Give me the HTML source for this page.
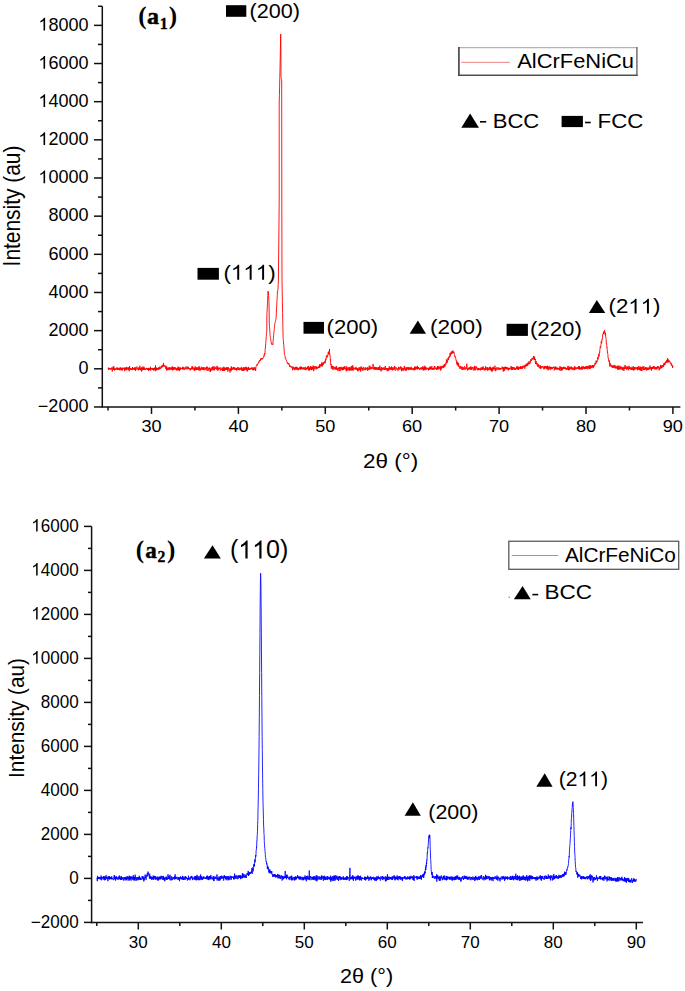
<!DOCTYPE html>
<html><head><meta charset="utf-8"><style>
html,body{margin:0;padding:0;background:#fff;}
svg{display:block;}
text{font-family:"Liberation Sans",sans-serif;fill:#000;font-kerning:none;}
</style></head><body>
<svg width="685" height="991" viewBox="0 0 685 991">
<rect width="685" height="991" fill="#fff"/>
<polyline points="108.05,368.35 108.22,367.84 108.40,368.32 108.57,370.04 108.75,367.74 108.92,368.21 109.09,369.27 109.27,368.12 109.44,368.36 109.61,368.39 109.79,368.67 109.96,368.12 110.14,369.47 110.31,368.84 110.48,369.23 110.66,368.09 110.83,368.60 111.00,368.98 111.18,369.53 111.35,369.02 111.53,368.71 111.70,369.00 111.87,367.34 112.05,367.64 112.22,371.55 112.39,370.65 112.57,368.91 112.74,369.15 112.92,368.49 113.09,368.45 113.26,366.47 113.44,369.84 113.61,369.09 113.79,366.45 113.96,368.00 114.13,368.02 114.31,369.24 114.48,370.44 114.65,368.50 114.83,368.56 115.00,369.97 115.18,369.42 115.35,368.79 115.52,369.65 115.70,368.77 115.87,368.67 116.04,368.66 116.22,369.25 116.39,368.08 116.57,367.72 116.74,368.39 116.91,369.58 117.09,367.86 117.26,369.24 117.44,367.78 117.61,369.79 117.78,367.75 117.96,368.72 118.13,370.00 118.30,368.99 118.48,368.68 118.65,368.43 118.83,369.73 119.00,369.83 119.17,368.50 119.35,369.17 119.52,368.46 119.69,367.91 119.87,370.39 120.04,368.43 120.22,367.33 120.39,369.00 120.56,369.52 120.74,367.89 120.91,368.47 121.08,367.80 121.26,369.04 121.43,370.28 121.61,368.83 121.78,369.17 121.95,367.91 122.13,368.46 122.30,370.39 122.48,369.94 122.65,367.75 122.82,368.01 123.00,369.34 123.17,368.72 123.34,368.19 123.52,368.22 123.69,367.79 123.87,368.39 124.04,368.78 124.21,368.99 124.39,367.57 124.56,371.06 124.73,368.84 124.91,368.64 125.08,370.17 125.26,368.32 125.43,369.36 125.60,367.78 125.78,368.83 125.95,367.95 126.13,367.44 126.30,368.24 126.47,369.55 126.65,370.22 126.82,366.86 126.99,368.75 127.17,369.39 127.34,368.51 127.52,368.81 127.69,367.79 127.86,368.64 128.04,368.71 128.21,369.50 128.38,368.19 128.56,369.77 128.73,367.98 128.91,367.09 129.08,370.35 129.25,371.27 129.43,368.02 129.60,365.98 129.77,369.77 129.95,370.03 130.12,368.09 130.30,369.59 130.47,369.27 130.64,369.08 130.82,368.09 130.99,369.15 131.17,368.45 131.34,368.89 131.51,369.59 131.69,369.01 131.86,369.71 132.03,368.69 132.21,369.89 132.38,369.87 132.56,367.15 132.73,368.74 132.90,368.75 133.08,368.14 133.25,369.16 133.42,368.93 133.60,368.24 133.77,368.36 133.95,369.96 134.12,367.83 134.29,369.30 134.47,369.82 134.64,369.63 134.82,369.08 134.99,366.97 135.16,369.97 135.34,368.56 135.51,371.01 135.68,368.67 135.86,367.74 136.03,368.90 136.21,369.35 136.38,368.48 136.55,367.93 136.73,368.03 136.90,366.62 137.07,368.48 137.25,369.29 137.42,368.80 137.60,368.78 137.77,368.60 137.94,368.72 138.12,368.52 138.29,370.42 138.46,367.81 138.64,369.25 138.81,369.85 138.99,368.04 139.16,367.32 139.33,368.16 139.51,368.51 139.68,369.68 139.86,365.72 140.03,367.69 140.20,369.88 140.38,369.54 140.55,368.66 140.72,370.28 140.90,368.50 141.07,369.17 141.25,367.43 141.42,367.68 141.59,371.54 141.77,368.71 141.94,370.31 142.11,367.51 142.29,368.52 142.46,368.14 142.64,369.82 142.81,366.70 142.98,366.55 143.16,369.84 143.33,368.27 143.51,369.38 143.68,368.69 143.85,370.02 144.03,366.73 144.20,369.69 144.37,369.00 144.55,368.20 144.72,369.39 144.90,368.93 145.07,369.32 145.24,368.83 145.42,369.92 145.59,369.12 145.76,368.89 145.94,369.04 146.11,368.63 146.29,368.98 146.46,367.86 146.63,369.05 146.81,368.87 146.98,369.40 147.15,369.30 147.33,370.03 147.50,368.11 147.68,369.85 147.85,369.41 148.02,368.30 148.20,368.25 148.37,369.11 148.55,370.81 148.72,368.22 148.89,368.37 149.07,370.14 149.24,367.93 149.41,369.39 149.59,369.85 149.76,368.59 149.94,368.85 150.11,368.43 150.28,370.35 150.46,366.79 150.63,369.20 150.80,370.30 150.98,368.00 151.15,369.00 151.33,368.35 151.50,369.00 151.67,368.75 151.85,368.41 152.02,369.47 152.20,367.89 152.37,369.19 152.54,369.55 152.72,368.57 152.89,368.25 153.06,368.84 153.24,369.57 153.41,368.01 153.59,370.49 153.76,369.76 153.93,368.63 154.11,370.07 154.28,368.64 154.45,368.69 154.63,367.65 154.80,369.63 154.98,369.34 155.15,368.28 155.32,371.19 155.50,365.35 155.67,369.39 155.84,369.47 156.02,367.68 156.19,368.63 156.37,370.42 156.54,367.98 156.71,367.68 156.89,369.03 157.06,368.95 157.24,368.03 157.41,369.47 157.58,368.08 157.76,368.33 157.93,369.23 158.10,370.02 158.28,368.83 158.45,369.48 158.63,367.47 158.80,368.39 158.97,367.62 159.15,368.35 159.32,368.18 159.49,369.34 159.67,367.68 159.84,366.54 160.02,368.57 160.19,369.01 160.36,368.38 160.54,368.69 160.71,368.84 160.89,367.70 161.06,368.08 161.23,366.27 161.41,367.41 161.58,367.07 161.75,366.03 161.93,367.38 162.10,365.11 162.28,366.98 162.45,366.85 162.62,366.24 162.80,365.71 162.97,366.46 163.14,364.65 163.32,366.24 163.49,362.96 163.67,364.66 163.84,365.08 164.01,365.55 164.19,365.24 164.36,365.19 164.53,366.36 164.71,366.53 164.88,366.18 165.06,366.93 165.23,365.62 165.40,365.70 165.58,367.27 165.75,366.88 165.93,369.09 166.10,367.21 166.27,367.95 166.45,367.52 166.62,366.35 166.79,370.57 166.97,367.92 167.14,369.35 167.32,367.70 167.49,369.73 167.66,368.96 167.84,368.17 168.01,367.80 168.18,368.39 168.36,369.37 168.53,369.12 168.71,367.61 168.88,368.52 169.05,370.25 169.23,367.72 169.40,368.13 169.58,367.66 169.75,368.83 169.92,367.71 170.10,369.71 170.27,367.96 170.44,369.15 170.62,367.87 170.79,367.61 170.97,369.30 171.14,368.66 171.31,368.59 171.49,367.41 171.66,367.88 171.83,369.90 172.01,368.17 172.18,367.81 172.36,366.41 172.53,370.39 172.70,369.19 172.88,367.19 173.05,370.07 173.22,369.90 173.40,368.09 173.57,367.56 173.75,369.41 173.92,368.04 174.09,368.53 174.27,367.08 174.44,368.66 174.62,367.68 174.79,369.63 174.96,368.84 175.14,368.72 175.31,367.47 175.48,368.04 175.66,369.46 175.83,367.92 176.01,367.87 176.18,368.77 176.35,368.94 176.53,368.90 176.70,370.47 176.87,368.49 177.05,368.39 177.22,369.48 177.40,367.90 177.57,370.13 177.74,369.23 177.92,369.15 178.09,366.60 178.27,370.29 178.44,368.06 178.61,367.66 178.79,368.27 178.96,367.43 179.13,369.70 179.31,371.11 179.48,367.89 179.66,369.93 179.83,369.06 180.00,369.86 180.18,367.59 180.35,367.78 180.52,369.42 180.70,367.68 180.87,368.55 181.05,368.85 181.22,368.64 181.39,368.88 181.57,368.05 181.74,368.28 181.91,369.01 182.09,367.71 182.26,369.35 182.44,368.37 182.61,368.17 182.78,367.19 182.96,369.22 183.13,366.82 183.31,368.52 183.48,368.88 183.65,369.40 183.83,368.05 184.00,368.66 184.17,369.84 184.35,369.91 184.52,369.24 184.70,369.37 184.87,367.54 185.04,367.24 185.22,367.77 185.39,368.32 185.56,369.13 185.74,368.62 185.91,367.76 186.09,366.46 186.26,367.74 186.43,368.99 186.61,368.63 186.78,369.19 186.96,369.45 187.13,368.88 187.30,368.48 187.48,366.78 187.65,368.63 187.82,367.27 188.00,366.85 188.17,368.60 188.35,366.95 188.52,367.96 188.69,369.14 188.87,368.41 189.04,368.65 189.21,368.89 189.39,368.91 189.56,368.54 189.74,368.25 189.91,369.64 190.08,368.71 190.26,370.32 190.43,368.40 190.60,368.00 190.78,368.53 190.95,368.41 191.13,368.03 191.30,369.39 191.47,368.90 191.65,368.23 191.82,367.64 192.00,368.30 192.17,366.02 192.34,368.76 192.52,367.61 192.69,367.36 192.86,368.80 193.04,369.58 193.21,369.92 193.39,368.52 193.56,367.57 193.73,368.38 193.91,368.53 194.08,369.07 194.25,368.12 194.43,370.92 194.60,368.43 194.78,368.66 194.95,370.14 195.12,366.39 195.30,370.14 195.47,369.83 195.65,369.95 195.82,367.53 195.99,369.63 196.17,367.96 196.34,368.02 196.51,368.43 196.69,370.06 196.86,369.36 197.04,366.97 197.21,370.01 197.38,369.58 197.56,368.85 197.73,367.88 197.90,368.44 198.08,367.90 198.25,369.80 198.43,367.69 198.60,368.08 198.77,370.36 198.95,367.04 199.12,366.24 199.29,369.48 199.47,368.63 199.64,367.25 199.82,370.26 199.99,370.79 200.16,370.01 200.34,369.33 200.51,369.32 200.69,368.08 200.86,368.38 201.03,370.02 201.21,368.14 201.38,366.78 201.55,367.42 201.73,367.69 201.90,368.64 202.08,367.63 202.25,369.73 202.42,367.91 202.60,368.78 202.77,367.54 202.94,368.23 203.12,369.85 203.29,368.56 203.47,367.40 203.64,369.93 203.81,369.27 203.99,369.50 204.16,370.27 204.34,367.69 204.51,367.29 204.68,367.81 204.86,368.45 205.03,368.75 205.20,368.48 205.38,369.47 205.55,367.73 205.73,367.60 205.90,367.70 206.07,369.25 206.25,368.60 206.42,368.84 206.59,366.79 206.77,368.55 206.94,370.67 207.12,368.35 207.29,366.71 207.46,367.98 207.64,367.78 207.81,368.61 207.98,370.75 208.16,370.56 208.33,369.98 208.51,368.77 208.68,368.37 208.85,367.97 209.03,369.05 209.20,367.62 209.38,368.99 209.55,369.43 209.72,367.76 209.90,369.62 210.07,371.57 210.24,369.75 210.42,368.58 210.59,371.88 210.77,369.05 210.94,369.01 211.11,370.21 211.29,370.20 211.46,369.19 211.63,369.26 211.81,367.34 211.98,368.30 212.16,370.34 212.33,369.58 212.50,367.94 212.68,366.68 212.85,368.32 213.03,368.38 213.20,366.68 213.37,368.77 213.55,369.03 213.72,370.15 213.89,369.28 214.07,366.43 214.24,370.20 214.42,368.63 214.59,370.19 214.76,368.54 214.94,367.77 215.11,368.94 215.28,367.95 215.46,367.97 215.63,368.23 215.81,366.92 215.98,367.87 216.15,369.00 216.33,369.39 216.50,369.53 216.67,368.15 216.85,369.06 217.02,365.84 217.20,366.71 217.37,368.91 217.54,369.04 217.72,366.88 217.89,370.68 218.07,369.13 218.24,367.70 218.41,369.61 218.59,369.19 218.76,369.03 218.93,367.96 219.11,368.50 219.28,368.29 219.46,368.07 219.63,368.69 219.80,367.57 219.98,369.47 220.15,370.19 220.32,370.52 220.50,370.40 220.67,369.21 220.85,367.60 221.02,368.48 221.19,369.32 221.37,369.84 221.54,369.20 221.72,369.12 221.89,369.25 222.06,370.20 222.24,369.17 222.41,367.62 222.58,370.98 222.76,368.94 222.93,370.89 223.11,368.53 223.28,369.50 223.45,370.85 223.63,368.60 223.80,366.77 223.97,368.61 224.15,367.47 224.32,368.73 224.50,370.95 224.67,368.17 224.84,369.14 225.02,370.22 225.19,367.91 225.36,368.43 225.54,369.23 225.71,367.82 225.89,369.56 226.06,367.99 226.23,369.71 226.41,368.19 226.58,369.91 226.76,367.11 226.93,368.42 227.10,367.14 227.28,369.54 227.45,369.14 227.62,367.78 227.80,371.59 227.97,369.81 228.15,367.63 228.32,368.21 228.49,367.67 228.67,369.02 228.84,368.06 229.01,369.47 229.19,370.16 229.36,370.48 229.54,369.28 229.71,369.28 229.88,369.35 230.06,372.42 230.23,370.75 230.41,369.22 230.58,368.41 230.75,369.26 230.93,369.57 231.10,371.11 231.27,366.59 231.45,369.83 231.62,366.92 231.80,367.04 231.97,368.43 232.14,369.23 232.32,368.55 232.49,369.88 232.66,368.43 232.84,368.68 233.01,368.19 233.19,367.72 233.36,366.94 233.53,369.06 233.71,367.63 233.88,369.56 234.05,369.59 234.23,369.35 234.40,369.72 234.58,367.62 234.75,367.70 234.92,367.34 235.10,368.69 235.27,368.45 235.45,369.25 235.62,369.85 235.79,368.16 235.97,368.46 236.14,369.87 236.31,368.08 236.49,370.46 236.66,368.85 236.84,369.29 237.01,369.22 237.18,369.84 237.36,367.72 237.53,368.10 237.70,367.40 237.88,368.57 238.05,370.09 238.23,369.07 238.40,369.89 238.57,368.14 238.75,367.39 238.92,368.32 239.10,369.37 239.27,369.09 239.44,368.49 239.62,370.21 239.79,368.57 239.96,368.47 240.14,369.23 240.31,369.13 240.49,368.53 240.66,369.55 240.83,369.55 241.01,367.86 241.18,368.49 241.35,366.90 241.53,369.74 241.70,370.58 241.88,367.70 242.05,367.72 242.22,369.45 242.40,370.19 242.57,368.74 242.74,370.54 242.92,369.08 243.09,370.96 243.27,368.93 243.44,370.98 243.61,368.93 243.79,367.14 243.96,369.03 244.14,367.91 244.31,369.41 244.48,369.62 244.66,370.33 244.83,367.66 245.00,368.81 245.18,367.02 245.35,369.94 245.53,368.99 245.70,368.66 245.87,367.29 246.05,366.82 246.22,369.44 246.39,369.86 246.57,370.50 246.74,367.35 246.92,368.82 247.09,369.40 247.26,368.80 247.44,371.43 247.61,370.52 247.79,367.76 247.96,368.33 248.13,368.58 248.31,369.75 248.48,368.12 248.65,366.86 248.83,370.01 249.00,368.70 249.18,369.20 249.35,368.37 249.52,368.74 249.70,368.88 249.87,369.66 250.04,368.76 250.22,369.37 250.39,368.82 250.57,368.78 250.74,368.10 250.91,369.31 251.09,369.07 251.26,367.64 251.43,368.92 251.61,369.01 251.78,367.80 251.96,368.46 252.13,368.61 252.30,368.51 252.48,370.00 252.65,368.22 252.83,367.37 253.00,368.11 253.17,370.35 253.35,368.43 253.52,369.73 253.69,368.95 253.87,368.60 254.04,369.94 254.22,367.35 254.39,368.76 254.56,367.88 254.74,367.98 254.91,367.34 255.08,367.44 255.26,370.28 255.43,368.70 255.61,370.92 255.78,369.16 255.95,367.93 256.00,366.50 256.18,366.42 256.36,365.81 256.55,365.17 256.73,365.17 256.91,364.59 257.09,364.95 257.27,365.46 257.45,364.10 257.64,363.75 257.82,364.16 258.00,363.81 258.18,363.43 258.35,362.58 258.52,362.89 258.70,363.09 258.88,361.64 259.05,361.94 259.23,360.84 259.40,360.98 259.57,360.41 259.75,361.15 259.93,360.30 260.10,360.99 260.28,360.69 260.45,360.25 260.62,358.62 260.80,359.58 260.99,359.72 261.18,359.66 261.37,358.52 261.56,358.99 261.74,358.54 261.93,358.48 262.12,359.45 262.31,358.17 262.50,358.48 262.68,358.86 262.87,357.82 263.05,357.93 263.23,357.90 263.42,357.70 263.60,356.76 263.78,356.91 263.95,357.04 264.12,354.66 264.30,355.47 264.48,354.38 264.65,353.29 264.82,354.24 265.00,352.86 265.18,349.46 265.36,348.00 265.54,346.09 265.72,343.41 265.90,341.71 266.08,339.04 266.26,336.78 266.44,334.52 266.62,332.26 266.80,330.00 266.80,316.20 267.00,312.47 267.20,308.73 267.40,305.00 267.60,300.37 267.80,295.73 268.00,291.10 268.20,291.55 268.40,292.00 268.60,295.43 268.80,298.87 269.00,302.30 269.30,323.60 269.50,326.62 269.70,329.65 269.90,332.68 270.10,335.70 270.28,336.74 270.45,337.77 270.62,338.81 270.80,339.85 270.98,340.85 271.15,342.33 271.32,343.83 271.50,343.59 271.68,344.25 271.85,343.97 272.02,344.45 272.20,343.79 272.38,344.03 272.55,344.13 272.72,344.66 272.90,344.69 273.07,341.13 273.25,339.85 273.43,337.77 273.60,335.70 273.78,333.85 273.97,332.00 274.15,330.15 274.33,328.30 274.52,326.45 274.70,324.60 274.88,323.78 275.05,322.95 275.23,322.12 275.40,321.30 275.57,320.48 275.75,319.65 275.93,318.82 276.10,318.00 276.35,312.95 276.60,307.90 276.78,304.54 276.96,301.18 277.14,297.82 277.32,294.46 277.50,291.10 277.75,290.20 278.00,289.30 278.20,284.65 278.40,280.00 278.60,260.00 278.80,240.00 279.00,220.00 279.20,200.00 279.20,104.00 279.40,95.20 279.60,86.40 279.80,77.60 280.00,68.80 280.20,60.00 280.45,47.05 280.70,34.10 280.90,50.00 281.00,77.00 281.18,77.75 281.35,78.50 281.52,79.25 281.70,80.00 281.80,200.00 282.00,280.00 282.20,290.83 282.40,301.67 282.60,312.50 282.85,325.05 283.10,337.60 283.28,339.69 283.45,341.30 283.62,344.25 283.80,344.75 283.98,347.76 284.15,350.07 284.32,352.97 284.50,354.71 284.70,354.94 284.90,355.76 285.10,356.67 285.30,358.57 285.50,358.24 285.69,358.77 285.87,359.63 286.06,359.80 286.24,360.21 286.43,360.12 286.61,361.24 286.80,361.43 286.97,362.66 287.14,362.61 287.31,362.46 287.49,363.13 287.66,362.78 287.83,363.87 288.00,363.50 288.18,364.06 288.36,363.15 288.53,364.34 288.71,363.33 288.89,363.33 289.07,364.58 289.24,364.44 289.42,365.29 289.60,366.75 289.78,365.08 289.95,365.38 290.12,366.05 290.30,366.40 290.48,366.17 290.65,366.33 290.82,367.05 291.00,367.11 291.18,366.29 291.35,366.98 291.52,367.16 291.70,366.62 291.88,367.52 292.05,366.96 292.22,368.17 292.40,367.70 292.45,367.61 292.63,370.27 292.80,368.37 292.97,367.22 293.15,366.62 293.32,368.06 293.49,367.71 293.67,369.21 293.84,369.11 294.02,367.30 294.19,368.55 294.36,368.73 294.54,370.09 294.71,368.46 294.88,367.94 295.06,369.41 295.23,369.17 295.41,366.89 295.58,368.37 295.75,368.89 295.93,369.75 296.10,369.14 296.28,368.83 296.45,367.07 296.62,369.23 296.80,366.72 296.97,369.51 297.14,369.02 297.32,367.65 297.49,368.82 297.67,369.46 297.84,368.70 298.01,368.09 298.19,370.31 298.36,368.79 298.53,368.67 298.71,368.99 298.88,367.83 299.06,369.15 299.23,369.04 299.40,368.47 299.58,367.79 299.75,368.85 299.93,366.93 300.10,369.54 300.27,367.21 300.45,369.52 300.62,368.74 300.79,368.15 300.97,366.38 301.14,367.58 301.32,368.99 301.49,367.14 301.66,368.82 301.84,369.38 302.01,368.17 302.18,368.44 302.36,367.54 302.53,369.10 302.71,368.09 302.88,367.79 303.05,368.27 303.23,368.55 303.40,369.33 303.57,367.47 303.75,368.30 303.92,367.95 304.10,368.81 304.27,368.44 304.44,369.61 304.62,368.36 304.79,367.62 304.97,368.34 305.14,367.58 305.31,368.16 305.49,366.92 305.66,368.65 305.83,370.15 306.01,368.07 306.18,368.59 306.36,369.46 306.53,367.81 306.70,368.10 306.88,367.97 307.05,368.75 307.22,368.20 307.40,368.19 307.57,366.54 307.75,369.06 307.92,368.48 308.09,368.08 308.27,370.26 308.44,370.04 308.62,366.14 308.79,370.22 308.96,367.72 309.14,369.33 309.31,369.09 309.48,370.44 309.66,369.31 309.83,367.44 310.01,369.77 310.18,367.79 310.35,368.00 310.53,366.25 310.70,368.80 310.87,367.01 311.05,367.38 311.22,368.53 311.40,370.13 311.57,366.67 311.74,369.71 311.92,368.73 312.09,367.46 312.26,367.12 312.44,369.13 312.61,368.13 312.79,368.55 312.96,367.01 313.13,365.55 313.31,370.05 313.48,367.22 313.66,371.11 313.83,368.20 314.00,369.13 314.18,366.00 314.35,367.86 314.52,368.60 314.70,368.57 314.87,368.68 315.05,367.83 315.22,367.97 315.39,367.23 315.57,366.32 315.74,367.11 315.91,369.10 316.09,369.39 316.26,368.47 316.44,366.56 316.61,367.97 316.78,368.39 316.96,367.54 317.13,368.97 317.31,368.62 317.48,366.87 317.65,367.66 317.83,367.72 318.00,367.03 318.17,367.83 318.35,367.93 318.52,367.73 318.70,366.28 318.87,366.85 319.04,368.01 319.22,366.97 319.39,366.06 319.56,364.39 319.74,367.61 319.91,365.86 320.09,366.29 320.26,365.33 320.43,365.63 320.61,364.34 320.78,365.08 320.95,366.07 321.13,366.39 321.30,364.76 321.48,364.92 321.65,362.53 321.82,363.44 322.00,366.21 322.17,364.26 322.35,366.23 322.52,365.97 322.69,363.53 322.87,363.42 323.04,364.94 323.21,362.08 323.39,364.30 323.56,364.11 323.74,362.34 323.91,363.07 324.08,362.90 324.26,362.66 324.43,361.89 324.60,362.21 324.78,361.54 324.95,363.40 325.13,362.54 325.30,360.39 325.47,361.56 325.65,359.69 325.82,358.48 326.00,359.62 326.17,358.53 326.34,356.23 326.52,357.00 326.69,355.34 326.86,355.45 327.04,356.04 327.21,356.44 327.39,356.98 327.56,357.31 327.73,355.25 327.91,354.60 328.08,354.92 328.25,352.19 328.43,354.03 328.60,351.84 328.78,352.87 328.95,351.86 329.12,351.30 329.30,351.72 329.47,348.95 329.64,354.88 329.82,354.30 329.99,354.91 330.17,357.39 330.34,360.34 330.51,359.61 330.69,364.11 330.86,364.99 331.04,364.15 331.21,367.03 331.38,368.67 331.56,365.51 331.73,366.21 331.90,366.23 332.08,367.79 332.25,367.42 332.43,368.70 332.60,365.90 332.77,366.93 332.95,367.21 333.12,370.08 333.29,367.02 333.47,366.46 333.64,366.80 333.82,367.22 333.99,368.18 334.16,368.63 334.34,367.74 334.51,367.84 334.69,368.13 334.86,368.62 335.03,366.70 335.21,369.63 335.38,368.42 335.55,369.08 335.73,367.37 335.90,366.97 336.08,367.13 336.25,367.73 336.42,369.95 336.60,366.23 336.77,367.88 336.94,368.52 337.12,368.46 337.29,368.88 337.47,368.06 337.64,368.17 337.81,368.90 337.99,371.17 338.16,368.61 338.33,368.05 338.51,368.06 338.68,368.73 338.86,368.03 339.03,367.48 339.20,369.03 339.38,367.02 339.55,370.59 339.73,369.94 339.90,369.51 340.07,371.12 340.25,369.59 340.42,367.23 340.59,367.31 340.77,368.55 340.94,366.82 341.12,368.30 341.29,369.16 341.46,368.40 341.64,368.80 341.81,367.88 341.98,370.16 342.16,367.59 342.33,369.12 342.51,367.68 342.68,370.20 342.85,369.03 343.03,368.57 343.20,367.74 343.38,369.89 343.55,366.82 343.72,368.13 343.90,369.19 344.07,367.46 344.24,368.46 344.42,367.42 344.59,366.25 344.77,367.83 344.94,369.21 345.11,369.06 345.29,367.95 345.46,368.36 345.63,369.51 345.81,369.35 345.98,367.96 346.16,366.16 346.33,371.35 346.50,367.87 346.68,368.88 346.85,367.81 347.02,367.73 347.20,368.56 347.37,369.73 347.55,370.11 347.72,370.56 347.89,367.36 348.07,368.84 348.24,369.22 348.42,368.94 348.59,370.08 348.76,368.24 348.94,367.23 349.11,367.42 349.28,370.26 349.46,367.25 349.63,369.48 349.81,370.67 349.98,370.00 350.15,369.70 350.33,368.64 350.50,369.81 350.67,370.27 350.85,368.94 351.02,366.64 351.20,369.39 351.37,368.19 351.54,368.54 351.72,365.94 351.89,370.64 352.07,367.56 352.24,370.03 352.41,369.28 352.59,368.71 352.76,365.34 352.93,369.50 353.11,370.61 353.28,367.30 353.46,369.54 353.63,368.90 353.80,368.65 353.98,368.55 354.15,368.90 354.32,368.39 354.50,368.25 354.67,367.80 354.85,369.14 355.02,369.43 355.19,369.77 355.37,368.07 355.54,368.69 355.71,368.08 355.89,368.14 356.06,366.90 356.24,368.49 356.41,367.90 356.58,369.92 356.76,369.83 356.93,369.03 357.11,369.93 357.28,367.97 357.45,370.07 357.63,368.60 357.80,371.25 357.97,369.81 358.15,369.03 358.32,368.96 358.50,370.56 358.67,368.51 358.84,367.61 359.02,367.99 359.19,369.32 359.36,369.26 359.54,369.94 359.71,367.96 359.89,367.07 360.06,369.21 360.23,370.50 360.41,368.41 360.58,367.90 360.76,371.52 360.93,368.58 361.10,366.40 361.28,367.81 361.45,368.10 361.62,368.26 361.80,367.52 361.97,369.67 362.15,369.54 362.32,368.30 362.49,369.41 362.67,368.39 362.84,370.70 363.01,367.87 363.19,367.78 363.36,368.61 363.54,368.50 363.71,366.94 363.88,369.84 364.06,369.64 364.23,369.77 364.40,369.12 364.58,369.68 364.75,368.62 364.93,369.35 365.10,370.18 365.27,370.24 365.45,367.40 365.62,368.77 365.80,368.89 365.97,368.61 366.14,368.72 366.32,367.92 366.49,368.06 366.66,369.28 366.84,369.54 367.01,369.82 367.19,369.96 367.36,367.19 367.53,369.63 367.71,370.72 367.88,369.55 368.05,369.53 368.23,368.34 368.40,369.62 368.58,368.15 368.75,368.22 368.92,367.27 369.10,366.41 369.27,365.64 369.45,367.27 369.62,369.90 369.79,369.14 369.97,368.40 370.14,366.45 370.31,367.91 370.49,367.38 370.66,368.84 370.84,367.99 371.01,367.84 371.18,369.15 371.36,367.82 371.53,367.52 371.70,368.82 371.88,367.60 372.05,366.91 372.23,368.49 372.40,368.45 372.57,368.54 372.75,368.35 372.92,367.12 373.09,363.97 373.27,366.85 373.44,367.39 373.62,368.88 373.79,368.92 373.96,367.82 374.14,369.63 374.31,369.24 374.49,366.86 374.66,367.49 374.83,369.41 375.01,368.00 375.18,369.32 375.35,366.94 375.53,369.27 375.70,368.58 375.88,367.15 376.05,369.55 376.22,367.29 376.40,369.48 376.57,368.44 376.74,368.96 376.92,368.75 377.09,368.47 377.27,368.81 377.44,369.73 377.61,367.77 377.79,367.87 377.96,367.31 378.14,367.22 378.31,370.04 378.48,367.29 378.66,367.27 378.83,369.18 379.00,367.55 379.18,367.14 379.35,369.22 379.53,370.10 379.70,369.03 379.87,365.72 380.05,368.41 380.22,369.95 380.39,368.93 380.57,369.73 380.74,369.11 380.92,368.54 381.09,371.36 381.26,368.28 381.44,367.19 381.61,368.92 381.78,369.07 381.96,367.46 382.13,369.99 382.31,369.99 382.48,370.10 382.65,368.84 382.83,368.26 383.00,368.80 383.18,368.13 383.35,367.77 383.52,368.13 383.70,369.51 383.87,368.92 384.04,367.36 384.22,369.76 384.39,368.95 384.57,369.12 384.74,368.87 384.91,369.76 385.09,370.05 385.26,366.01 385.43,367.67 385.61,369.40 385.78,368.74 385.96,367.92 386.13,369.04 386.30,368.02 386.48,369.31 386.65,369.09 386.83,368.80 387.00,369.16 387.17,371.19 387.35,368.61 387.52,368.37 387.69,368.17 387.87,369.71 388.04,368.29 388.22,368.42 388.39,370.56 388.56,370.99 388.74,368.18 388.91,369.61 389.08,367.62 389.26,366.43 389.43,369.24 389.61,369.39 389.78,368.64 389.95,367.98 390.13,369.78 390.30,367.35 390.47,367.61 390.65,367.97 390.82,369.22 391.00,367.69 391.17,367.76 391.34,369.87 391.52,366.53 391.69,369.00 391.87,368.28 392.04,369.20 392.21,368.20 392.39,367.41 392.56,369.50 392.73,370.41 392.91,369.06 393.08,369.99 393.26,369.36 393.43,368.83 393.60,368.66 393.78,367.30 393.95,369.74 394.12,368.27 394.30,369.18 394.47,367.22 394.65,366.04 394.82,368.34 394.99,366.93 395.17,369.20 395.34,370.37 395.52,369.97 395.69,370.32 395.86,369.62 396.04,368.92 396.21,367.48 396.38,367.96 396.56,368.15 396.73,368.96 396.91,369.45 397.08,368.63 397.25,368.45 397.43,368.35 397.60,368.21 397.77,368.76 397.95,370.65 398.12,369.81 398.30,369.55 398.47,366.85 398.64,369.12 398.82,367.91 398.99,367.19 399.16,368.36 399.34,369.06 399.51,368.95 399.69,369.65 399.86,368.35 400.03,367.44 400.21,368.10 400.38,367.75 400.56,367.97 400.73,366.49 400.90,369.32 401.08,368.54 401.25,367.92 401.42,367.30 401.60,371.19 401.77,369.22 401.95,368.85 402.12,369.72 402.29,367.72 402.47,368.38 402.64,369.07 402.81,370.38 402.99,370.02 403.16,369.68 403.34,368.15 403.51,369.95 403.68,370.80 403.86,370.19 404.03,369.24 404.21,366.87 404.38,366.02 404.55,369.19 404.73,367.60 404.90,367.19 405.07,367.30 405.25,368.76 405.42,369.98 405.60,369.16 405.77,370.60 405.94,368.43 406.12,367.78 406.29,370.63 406.46,368.70 406.64,368.39 406.81,367.34 406.99,367.15 407.16,367.75 407.33,369.38 407.51,369.01 407.68,367.34 407.85,369.31 408.03,368.68 408.20,366.96 408.38,368.45 408.55,370.12 408.72,368.97 408.90,367.91 409.07,368.83 409.25,367.39 409.42,367.32 409.59,369.26 409.77,369.13 409.94,368.68 410.11,369.91 410.29,368.24 410.46,368.85 410.64,367.84 410.81,369.29 410.98,369.53 411.16,366.72 411.33,369.54 411.50,369.25 411.68,369.37 411.85,368.90 412.03,369.54 412.20,368.63 412.37,369.36 412.55,369.02 412.72,368.24 412.90,367.90 413.07,368.16 413.24,369.38 413.42,368.18 413.59,368.67 413.76,368.73 413.94,370.36 414.11,367.96 414.29,368.75 414.46,366.72 414.63,367.94 414.81,369.80 414.98,370.08 415.15,367.30 415.33,369.47 415.50,367.90 415.68,368.93 415.85,366.48 416.02,368.51 416.20,366.94 416.37,367.26 416.54,369.03 416.72,368.91 416.89,366.96 417.07,368.60 417.24,369.48 417.41,367.26 417.59,365.85 417.76,368.58 417.94,367.10 418.11,368.73 418.28,367.15 418.46,368.79 418.63,367.14 418.80,367.98 418.98,368.81 419.15,368.34 419.33,369.10 419.50,369.66 419.67,369.66 419.85,368.60 420.02,369.62 420.19,368.01 420.37,367.88 420.54,367.99 420.72,369.02 420.89,368.47 421.06,368.50 421.24,367.11 421.41,369.33 421.59,368.92 421.76,368.68 421.93,368.65 422.11,369.33 422.28,369.14 422.45,367.45 422.63,369.12 422.80,367.45 422.98,366.31 423.15,367.13 423.32,370.40 423.50,367.67 423.67,367.86 423.84,367.84 424.02,370.21 424.19,367.70 424.37,369.58 424.54,367.09 424.71,367.32 424.89,365.74 425.06,368.90 425.23,370.08 425.41,367.30 425.58,367.51 425.76,368.85 425.93,367.01 426.10,367.68 426.28,369.77 426.45,368.83 426.63,368.95 426.80,368.51 426.97,368.28 427.15,369.06 427.32,368.68 427.49,367.83 427.67,368.44 427.84,368.63 428.02,368.73 428.19,368.64 428.36,370.42 428.54,368.33 428.71,369.50 428.88,368.24 429.06,369.90 429.23,367.42 429.41,368.13 429.58,369.77 429.75,368.15 429.93,369.19 430.10,366.42 430.28,367.83 430.45,369.14 430.62,368.10 430.80,368.37 430.97,367.05 431.14,367.94 431.32,367.71 431.49,369.48 431.67,367.53 431.84,366.15 432.01,367.70 432.19,368.35 432.36,368.18 432.53,369.38 432.71,368.07 432.88,369.37 433.06,368.33 433.23,368.64 433.40,369.14 433.58,367.72 433.75,369.87 433.92,368.32 434.10,369.52 434.27,366.32 434.45,366.08 434.62,367.38 434.79,366.18 434.97,367.55 435.14,367.69 435.32,368.69 435.49,369.11 435.66,368.15 435.84,368.75 436.01,368.72 436.18,367.40 436.36,368.27 436.53,369.74 436.71,368.34 436.88,368.94 437.05,368.46 437.23,369.31 437.40,366.87 437.57,366.11 437.75,369.27 437.92,367.36 438.10,367.46 438.27,369.26 438.44,367.85 438.62,366.56 438.79,367.20 438.97,366.31 439.14,369.18 439.31,368.70 439.49,367.56 439.66,367.33 439.83,367.90 440.01,368.07 440.18,368.18 440.36,368.39 440.53,367.40 440.70,370.57 440.88,365.87 441.05,368.21 441.22,369.15 441.40,367.00 441.57,368.85 441.75,366.92 441.92,367.53 442.09,366.62 442.27,366.20 442.44,365.81 442.61,367.49 442.79,367.03 442.96,366.80 443.14,368.07 443.31,366.07 443.48,366.39 443.66,367.76 443.83,365.02 444.01,364.63 444.18,367.02 444.35,365.11 444.53,364.16 444.70,364.20 444.87,366.16 445.05,366.42 445.22,364.92 445.40,364.83 445.57,364.12 445.74,363.76 445.92,362.84 446.09,364.38 446.26,363.26 446.44,359.42 446.61,362.73 446.79,361.55 446.96,361.99 447.13,361.24 447.31,362.58 447.48,360.46 447.66,360.84 447.83,359.39 448.00,357.95 448.18,359.54 448.35,358.20 448.52,359.97 448.70,358.14 448.87,356.68 449.05,357.39 449.22,357.88 449.39,356.41 449.57,356.56 449.74,356.93 449.91,357.01 450.09,353.08 450.26,356.19 450.44,355.34 450.61,355.31 450.78,353.00 450.96,354.01 451.13,351.87 451.30,353.18 451.48,353.75 451.65,354.11 451.83,351.19 452.00,352.02 452.17,352.24 452.35,352.67 452.52,352.00 452.70,353.46 452.87,350.47 453.04,351.66 453.22,351.97 453.39,353.00 453.56,352.53 453.74,352.66 453.91,351.70 454.09,352.88 454.26,354.20 454.43,354.90 454.61,354.98 454.78,356.83 454.95,356.20 455.13,356.12 455.30,356.60 455.48,356.77 455.65,358.20 455.82,358.58 456.00,360.16 456.17,360.67 456.35,360.31 456.52,360.88 456.69,363.60 456.87,363.89 457.04,364.42 457.21,361.69 457.39,365.31 457.56,364.36 457.74,362.86 457.91,363.83 458.08,363.82 458.26,366.07 458.43,365.28 458.60,362.86 458.78,366.74 458.95,366.21 459.13,367.11 459.30,366.85 459.47,366.55 459.65,365.90 459.82,368.33 459.99,368.95 460.17,367.54 460.34,367.36 460.52,366.14 460.69,366.93 460.86,368.48 461.04,367.00 461.21,366.82 461.39,367.65 461.56,368.21 461.73,367.24 461.91,368.35 462.08,369.93 462.25,366.70 462.43,369.45 462.60,368.40 462.78,368.37 462.95,368.60 463.12,368.51 463.30,369.71 463.47,367.60 463.64,368.27 463.82,368.14 463.99,367.17 464.17,367.06 464.34,366.85 464.51,366.25 464.69,367.88 464.86,369.88 465.04,368.10 465.21,368.34 465.38,368.20 465.56,369.02 465.73,369.23 465.90,367.53 466.08,367.23 466.25,368.87 466.43,366.13 466.60,366.08 466.77,363.77 466.95,365.21 467.12,367.05 467.29,368.43 467.47,368.15 467.64,370.44 467.82,368.99 467.99,368.93 468.16,369.81 468.34,368.26 468.51,368.23 468.68,369.12 468.86,368.62 469.03,367.79 469.21,367.34 469.38,369.30 469.55,368.06 469.73,367.37 469.90,368.52 470.08,369.24 470.25,369.33 470.42,368.83 470.60,369.55 470.77,366.37 470.94,369.09 471.12,368.07 471.29,368.34 471.47,367.84 471.64,368.96 471.81,369.88 471.99,366.85 472.16,368.65 472.33,368.40 472.51,368.36 472.68,367.17 472.86,367.68 473.03,367.27 473.20,367.64 473.38,368.35 473.55,368.33 473.73,369.36 473.90,370.56 474.07,368.84 474.25,369.70 474.42,365.83 474.59,366.90 474.77,367.38 474.94,369.12 475.12,366.35 475.29,370.32 475.46,369.76 475.64,369.39 475.81,369.50 475.98,368.33 476.16,368.32 476.33,366.51 476.51,367.47 476.68,367.36 476.85,368.15 477.03,368.67 477.20,369.33 477.37,370.13 477.55,369.45 477.72,368.91 477.90,367.77 478.07,370.30 478.24,370.00 478.42,368.27 478.59,369.69 478.77,368.24 478.94,368.98 479.11,369.29 479.29,369.96 479.46,368.67 479.63,369.36 479.81,369.17 479.98,369.27 480.16,368.39 480.33,368.43 480.50,370.33 480.68,368.78 480.85,368.19 481.02,367.48 481.20,367.75 481.37,368.41 481.55,369.81 481.72,369.41 481.89,367.62 482.07,369.35 482.24,367.42 482.42,367.23 482.59,369.65 482.76,368.10 482.94,368.69 483.11,366.42 483.28,367.71 483.46,369.19 483.63,368.13 483.81,369.57 483.98,368.69 484.15,368.40 484.33,368.42 484.50,368.26 484.67,369.55 484.85,370.54 485.02,368.97 485.20,369.51 485.37,369.31 485.54,366.34 485.72,367.36 485.89,368.85 486.06,370.03 486.24,369.92 486.41,368.25 486.59,367.49 486.76,368.97 486.93,368.55 487.11,368.33 487.28,367.40 487.46,370.55 487.63,368.41 487.80,368.15 487.98,367.56 488.15,368.17 488.32,369.77 488.50,369.21 488.67,370.15 488.85,368.39 489.02,368.45 489.19,368.02 489.37,369.59 489.54,369.72 489.71,366.97 489.89,368.39 490.06,366.75 490.24,368.15 490.41,370.10 490.58,367.75 490.76,367.32 490.93,369.05 491.11,370.59 491.28,367.86 491.45,368.69 491.63,368.20 491.80,371.40 491.97,368.04 492.15,371.46 492.32,369.48 492.50,367.61 492.67,370.52 492.84,370.53 493.02,369.02 493.19,366.90 493.36,366.91 493.54,369.23 493.71,367.52 493.89,367.93 494.06,368.35 494.23,368.14 494.41,369.30 494.58,367.70 494.75,367.53 494.93,365.72 495.10,367.64 495.28,371.11 495.45,369.83 495.62,368.23 495.80,368.53 495.97,370.53 496.15,368.68 496.32,369.01 496.49,368.65 496.67,368.70 496.84,367.60 497.01,367.04 497.19,367.84 497.36,369.72 497.54,369.55 497.71,369.21 497.88,368.68 498.06,368.96 498.23,368.89 498.40,369.60 498.58,367.55 498.75,367.60 498.93,367.49 499.10,368.63 499.27,368.10 499.45,369.45 499.62,369.67 499.80,369.18 499.97,367.90 500.14,368.75 500.32,369.72 500.49,368.49 500.66,368.12 500.84,368.32 501.01,369.24 501.19,368.44 501.36,368.99 501.53,368.89 501.71,368.66 501.88,367.78 502.05,366.60 502.23,366.87 502.40,367.79 502.58,368.93 502.75,368.86 502.92,368.78 503.10,367.25 503.27,371.48 503.44,368.17 503.62,370.64 503.79,368.55 503.97,367.01 504.14,369.42 504.31,370.93 504.49,367.11 504.66,366.86 504.84,367.95 505.01,367.13 505.18,369.32 505.36,367.24 505.53,366.76 505.70,367.87 505.88,368.19 506.05,367.20 506.23,367.27 506.40,369.27 506.57,367.00 506.75,367.66 506.92,368.33 507.09,367.23 507.27,367.57 507.44,367.69 507.62,368.90 507.79,367.59 507.96,369.60 508.14,368.59 508.31,370.36 508.49,370.22 508.66,368.00 508.83,368.61 509.01,368.32 509.18,367.83 509.35,367.93 509.53,369.48 509.70,368.40 509.88,368.50 510.05,368.99 510.22,368.52 510.40,368.76 510.57,369.07 510.74,368.76 510.92,368.20 511.09,366.23 511.27,369.21 511.44,367.85 511.61,370.04 511.79,366.63 511.96,368.76 512.13,368.19 512.31,367.06 512.48,367.28 512.66,369.95 512.83,367.70 513.00,368.52 513.18,367.74 513.35,368.35 513.53,367.55 513.70,368.08 513.87,368.42 514.05,367.07 514.22,369.96 514.39,368.82 514.57,369.36 514.74,368.36 514.92,368.68 515.09,368.45 515.26,368.77 515.44,368.70 515.61,369.99 515.78,368.40 515.96,367.81 516.13,368.87 516.31,368.94 516.48,368.88 516.65,366.49 516.83,368.05 517.00,367.75 517.18,368.52 517.35,368.64 517.52,369.02 517.70,366.36 517.87,369.90 518.04,367.76 518.22,368.12 518.39,368.22 518.57,369.63 518.74,369.27 518.91,366.80 519.09,368.66 519.26,366.98 519.43,367.30 519.61,367.41 519.78,367.09 519.96,369.08 520.13,368.37 520.30,367.12 520.48,368.97 520.65,365.98 520.82,368.28 521.00,367.69 521.17,368.73 521.35,367.04 521.52,368.09 521.69,367.56 521.87,368.40 522.04,366.25 522.22,368.87 522.39,366.73 522.56,366.73 522.74,366.67 522.91,367.97 523.08,365.63 523.26,365.76 523.43,366.59 523.61,366.38 523.78,366.71 523.95,365.87 524.13,367.45 524.30,365.68 524.47,365.60 524.65,367.58 524.82,368.66 525.00,365.90 525.17,366.01 525.34,364.47 525.52,365.69 525.69,366.00 525.87,366.75 526.04,365.52 526.21,365.82 526.39,366.03 526.56,365.15 526.73,363.56 526.91,364.50 527.08,365.69 527.26,363.91 527.43,365.32 527.60,365.81 527.78,363.47 527.95,364.38 528.12,362.48 528.30,363.19 528.47,364.18 528.65,363.20 528.82,361.55 528.99,363.27 529.17,364.06 529.34,363.20 529.51,363.27 529.69,364.09 529.86,363.67 530.04,361.54 530.21,360.69 530.38,362.53 530.56,360.91 530.73,360.59 530.91,359.23 531.08,360.89 531.25,360.92 531.43,359.92 531.60,360.16 531.77,359.16 531.95,358.62 532.12,359.39 532.30,358.35 532.47,359.34 532.64,358.22 532.82,358.40 532.99,358.04 533.16,357.60 533.34,357.25 533.51,356.48 533.69,355.97 533.86,359.22 534.03,356.37 534.21,359.69 534.38,357.54 534.56,357.01 534.73,359.53 534.90,358.86 535.08,360.06 535.25,358.97 535.42,363.93 535.60,362.28 535.77,363.79 535.95,361.92 536.12,361.05 536.29,361.45 536.47,362.39 536.64,363.13 536.81,364.55 536.99,363.08 537.16,363.96 537.34,365.49 537.51,366.49 537.68,365.73 537.86,364.28 538.03,364.49 538.20,364.00 538.38,366.70 538.55,366.54 538.73,365.05 538.90,366.03 539.07,365.55 539.25,367.79 539.42,366.94 539.60,366.80 539.77,367.35 539.94,367.31 540.12,368.54 540.29,365.31 540.46,367.05 540.64,368.84 540.81,366.34 540.99,367.17 541.16,366.51 541.33,367.78 541.51,368.29 541.68,368.12 541.85,367.34 542.03,366.59 542.20,366.96 542.38,366.86 542.55,366.34 542.72,367.34 542.90,366.60 543.07,366.44 543.25,367.55 543.42,368.02 543.59,368.43 543.77,369.09 543.94,369.42 544.11,366.56 544.29,367.88 544.46,368.48 544.64,366.20 544.81,366.88 544.98,367.88 545.16,366.98 545.33,368.23 545.50,367.57 545.68,366.10 545.85,366.83 546.03,368.38 546.20,367.26 546.37,366.84 546.55,368.17 546.72,368.63 546.89,366.07 547.07,368.46 547.24,369.41 547.42,367.90 547.59,365.75 547.76,367.35 547.94,367.01 548.11,370.27 548.29,368.61 548.46,366.87 548.63,368.44 548.81,366.81 548.98,367.63 549.15,367.68 549.33,366.45 549.50,368.57 549.68,368.58 549.85,368.02 550.02,368.03 550.20,369.95 550.37,366.80 550.54,367.86 550.72,368.37 550.89,367.57 551.07,368.56 551.24,366.95 551.41,368.18 551.59,367.32 551.76,369.09 551.94,368.43 552.11,367.79 552.28,369.11 552.46,368.81 552.63,368.24 552.80,367.04 552.98,367.41 553.15,367.19 553.33,367.87 553.50,367.32 553.67,366.51 553.85,368.02 554.02,367.72 554.19,367.51 554.37,370.28 554.54,368.27 554.72,367.78 554.89,367.39 555.06,368.51 555.24,367.18 555.41,368.90 555.58,368.42 555.76,366.48 555.93,369.63 556.11,368.34 556.28,368.36 556.45,368.36 556.63,368.75 556.80,367.56 556.98,369.41 557.15,369.62 557.32,367.81 557.50,369.35 557.67,367.91 557.84,368.25 558.02,368.91 558.19,368.66 558.37,368.43 558.54,367.86 558.71,368.88 558.89,368.56 559.06,369.69 559.23,368.54 559.41,370.31 559.58,368.28 559.76,368.77 559.93,366.12 560.10,367.02 560.28,368.54 560.45,367.30 560.63,368.12 560.80,369.60 560.97,370.94 561.15,367.16 561.32,367.98 561.49,370.38 561.67,367.52 561.84,367.36 562.02,368.95 562.19,367.49 562.36,370.19 562.54,368.59 562.71,368.33 562.88,367.48 563.06,367.87 563.23,368.09 563.41,367.77 563.58,369.06 563.75,366.80 563.93,368.73 564.10,367.54 564.27,368.20 564.45,368.54 564.62,367.77 564.80,367.86 564.97,366.90 565.14,367.20 565.32,368.96 565.49,367.78 565.67,368.21 565.84,369.13 566.01,369.41 566.19,368.08 566.36,368.87 566.53,369.80 566.71,368.46 566.88,368.11 567.06,368.19 567.23,369.60 567.40,368.97 567.58,366.91 567.75,369.10 567.92,368.57 568.10,365.81 568.27,368.02 568.45,368.84 568.62,370.30 568.79,368.00 568.97,369.76 569.14,368.37 569.32,369.19 569.49,370.05 569.66,366.61 569.84,368.37 570.01,367.26 570.18,367.48 570.36,369.12 570.53,368.17 570.71,368.61 570.88,367.20 571.05,367.75 571.23,368.59 571.40,366.54 571.57,367.69 571.75,367.74 571.92,369.07 572.10,367.81 572.27,369.85 572.44,367.75 572.62,369.26 572.79,368.06 572.96,368.43 573.14,367.98 573.31,367.84 573.49,368.33 573.66,368.38 573.83,369.86 574.01,370.23 574.18,366.91 574.36,367.72 574.53,369.80 574.70,366.20 574.88,369.00 575.05,367.68 575.22,367.74 575.40,367.99 575.57,367.52 575.75,369.52 575.92,368.30 576.09,368.35 576.27,368.08 576.44,368.38 576.61,368.69 576.79,368.85 576.96,367.18 577.14,368.91 577.31,367.78 577.48,367.68 577.66,368.19 577.83,367.64 578.01,367.57 578.18,368.63 578.35,367.71 578.53,366.08 578.70,369.17 578.87,368.48 579.05,368.80 579.22,365.98 579.40,369.50 579.57,368.07 579.74,367.08 579.92,368.98 580.09,368.06 580.26,368.81 580.44,369.45 580.61,368.07 580.79,367.55 580.96,368.46 581.13,367.77 581.31,367.21 581.48,366.63 581.65,369.19 581.83,367.34 582.00,368.64 582.18,369.79 582.35,368.87 582.52,367.19 582.70,367.48 582.87,368.90 583.05,366.04 583.22,367.31 583.39,367.73 583.57,368.51 583.74,367.37 583.91,368.15 584.09,366.76 584.26,367.48 584.44,366.98 584.61,368.09 584.78,369.16 584.96,367.07 585.13,368.62 585.30,367.68 585.48,367.60 585.65,368.37 585.83,366.74 586.00,368.92 586.17,366.01 586.35,368.23 586.52,366.46 586.70,366.27 586.87,368.18 587.04,367.99 587.22,366.33 587.39,367.30 587.56,367.25 587.74,369.24 587.91,369.10 588.09,366.77 588.26,365.73 588.43,368.04 588.61,368.12 588.78,366.96 588.95,366.80 589.13,366.57 589.30,367.59 589.48,368.91 589.65,365.48 589.82,367.45 590.00,365.60 590.17,368.98 590.34,366.46 590.52,367.35 590.69,368.14 590.87,365.70 591.04,365.39 591.21,367.26 591.39,366.00 591.56,367.73 591.74,367.08 591.91,366.69 592.08,366.66 592.26,365.54 592.43,367.42 592.60,365.05 592.78,365.06 592.95,366.15 593.13,366.94 593.30,368.20 593.47,365.56 593.65,366.20 593.82,365.08 593.99,366.45 594.17,365.01 594.34,364.83 594.52,364.86 594.69,364.24 594.86,364.02 595.04,363.19 595.21,364.61 595.39,362.93 595.56,363.37 595.73,363.51 595.91,363.92 596.08,360.58 596.25,362.43 596.43,362.52 596.60,361.60 596.78,361.29 596.95,361.91 597.12,361.90 597.30,360.02 597.47,359.57 597.64,359.66 597.82,357.11 597.99,359.41 598.17,358.60 598.34,356.62 598.51,355.81 598.69,355.29 598.86,354.01 599.03,356.62 599.21,352.98 599.38,353.08 599.56,351.75 599.73,352.50 599.90,349.28 600.08,348.57 600.25,346.55 600.43,347.65 600.60,347.90 600.77,346.17 600.95,344.61 601.12,343.69 601.29,341.22 601.47,343.36 601.64,342.44 601.82,341.54 601.99,339.18 602.16,339.62 602.34,339.06 602.51,337.85 602.68,334.39 602.86,334.61 603.03,334.18 603.21,333.44 603.38,332.74 603.55,334.01 603.73,331.75 603.90,331.44 604.08,333.45 604.25,332.74 604.42,330.97 604.60,330.14 604.77,331.77 604.94,332.30 605.12,332.22 605.29,335.06 605.47,333.04 605.64,336.19 605.81,337.06 605.99,338.83 606.16,339.39 606.33,343.79 606.51,343.43 606.68,344.05 606.86,347.58 607.03,347.18 607.20,349.40 607.38,352.35 607.55,351.85 607.72,353.92 607.90,354.48 608.07,357.53 608.25,358.25 608.42,357.99 608.59,359.09 608.77,360.87 608.94,361.62 609.12,360.93 609.29,360.28 609.46,363.49 609.64,362.55 609.81,366.54 609.98,365.84 610.16,363.56 610.33,363.32 610.51,365.01 610.68,364.66 610.85,365.20 611.03,364.84 611.20,366.98 611.37,365.65 611.55,366.64 611.72,366.70 611.90,366.22 612.07,366.76 612.24,367.49 612.42,367.04 612.59,367.86 612.77,365.32 612.94,366.18 613.11,367.24 613.29,365.54 613.46,365.71 613.63,366.80 613.81,367.80 613.98,366.88 614.16,366.59 614.33,365.83 614.50,367.63 614.68,367.93 614.85,364.95 615.02,366.19 615.20,367.26 615.37,368.51 615.55,367.07 615.72,366.44 615.89,366.89 616.07,366.88 616.24,367.62 616.41,366.61 616.59,368.39 616.76,368.20 616.94,368.28 617.11,368.42 617.28,365.75 617.46,369.56 617.63,367.52 617.81,369.02 617.98,369.19 618.15,367.81 618.33,369.59 618.50,368.06 618.67,365.57 618.85,368.14 619.02,367.39 619.20,368.77 619.37,367.57 619.54,369.53 619.72,367.81 619.89,368.19 620.06,365.85 620.24,368.16 620.41,368.49 620.59,368.75 620.76,369.33 620.93,367.34 621.11,366.59 621.28,368.64 621.46,367.49 621.63,368.76 621.80,367.81 621.98,367.81 622.15,369.68 622.32,368.98 622.50,367.26 622.67,370.18 622.85,368.29 623.02,368.69 623.19,369.16 623.37,368.17 623.54,367.92 623.71,367.75 623.89,370.99 624.06,366.51 624.24,368.66 624.41,367.37 624.58,368.51 624.76,368.88 624.93,368.35 625.10,365.00 625.28,366.71 625.45,368.74 625.63,368.02 625.80,367.12 625.97,367.73 626.15,368.25 626.32,368.47 626.50,369.55 626.67,367.65 626.84,367.23 627.02,366.10 627.19,368.91 627.36,367.67 627.54,368.39 627.71,367.09 627.89,368.53 628.06,369.06 628.23,370.28 628.41,367.74 628.58,368.29 628.75,367.31 628.93,368.99 629.10,365.76 629.28,369.13 629.45,367.89 629.62,368.07 629.80,367.39 629.97,368.51 630.15,369.38 630.32,369.45 630.49,367.61 630.67,368.38 630.84,368.02 631.01,369.36 631.19,368.32 631.36,368.22 631.54,367.85 631.71,370.02 631.88,369.29 632.06,366.67 632.23,368.80 632.40,368.55 632.58,368.83 632.75,370.08 632.93,369.62 633.10,368.11 633.27,369.25 633.45,366.34 633.62,370.11 633.79,370.57 633.97,368.89 634.14,369.73 634.32,367.06 634.49,368.92 634.66,367.88 634.84,369.90 635.01,367.74 635.19,367.83 635.36,367.13 635.53,368.27 635.71,367.96 635.88,368.27 636.05,367.50 636.23,368.90 636.40,367.96 636.58,369.10 636.75,367.74 636.92,368.76 637.10,369.15 637.27,369.29 637.44,366.85 637.62,370.09 637.79,370.09 637.97,367.77 638.14,369.55 638.31,369.00 638.49,368.94 638.66,366.16 638.84,369.25 639.01,369.29 639.18,368.93 639.36,368.10 639.53,367.99 639.70,370.09 639.88,368.02 640.05,366.41 640.23,370.31 640.40,367.93 640.57,367.59 640.75,368.32 640.92,368.73 641.09,371.00 641.27,367.21 641.44,368.83 641.62,368.72 641.79,367.19 641.96,370.83 642.14,368.49 642.31,367.88 642.48,367.76 642.66,367.80 642.83,366.39 643.01,368.27 643.18,367.46 643.35,367.73 643.53,370.10 643.70,369.29 643.88,366.33 644.05,368.77 644.22,368.52 644.40,369.88 644.57,368.90 644.74,369.89 644.92,369.06 645.09,367.93 645.27,369.39 645.44,369.09 645.61,367.10 645.79,368.01 645.96,367.90 646.13,367.42 646.31,369.06 646.48,368.88 646.66,370.56 646.83,367.66 647.00,368.70 647.18,368.47 647.35,369.50 647.53,367.80 647.70,367.76 647.87,368.23 648.05,370.12 648.22,369.30 648.39,368.51 648.57,369.31 648.74,367.95 648.92,367.37 649.09,369.12 649.26,368.59 649.44,369.10 649.61,367.31 649.78,367.50 649.96,365.54 650.13,368.31 650.31,369.35 650.48,367.95 650.65,368.63 650.83,368.15 651.00,367.01 651.17,368.61 651.35,367.59 651.52,370.57 651.70,367.23 651.87,368.21 652.04,368.65 652.22,368.74 652.39,366.89 652.57,368.91 652.74,366.90 652.91,368.81 653.09,368.22 653.26,367.95 653.43,366.16 653.61,367.97 653.78,367.85 653.96,368.30 654.13,368.56 654.30,368.84 654.48,366.33 654.65,366.73 654.82,369.04 655.00,368.00 655.17,369.52 655.35,367.11 655.52,367.48 655.69,368.06 655.87,369.06 656.04,367.39 656.22,367.51 656.39,368.26 656.56,367.34 656.74,369.48 656.91,368.71 657.08,368.98 657.26,367.85 657.43,366.19 657.61,367.98 657.78,366.80 657.95,368.04 658.13,368.24 658.30,366.99 658.47,367.11 658.65,366.31 658.82,366.77 659.00,368.53 659.17,370.35 659.34,367.50 659.52,368.76 659.69,368.93 659.86,369.06 660.04,367.91 660.21,367.68 660.39,367.18 660.56,365.03 660.73,368.51 660.91,366.96 661.08,368.12 661.26,368.10 661.43,366.65 661.60,366.26 661.78,367.91 661.95,365.49 662.12,367.27 662.30,365.09 662.47,366.15 662.65,365.15 662.82,365.33 662.99,365.99 663.17,365.12 663.34,367.06 663.51,366.84 663.69,365.75 663.86,363.53 664.04,365.29 664.21,365.04 664.38,362.76 664.56,364.27 664.73,363.93 664.91,364.89 665.08,363.43 665.25,362.83 665.43,363.48 665.60,362.24 665.77,362.27 665.95,361.62 666.12,361.29 666.30,362.72 666.47,361.37 666.64,360.09 666.82,361.57 666.99,362.78 667.16,361.27 667.34,361.45 667.51,358.20 667.69,360.61 667.86,362.25 668.03,360.65 668.21,359.38 668.38,362.24 668.55,361.43 668.73,360.95 668.90,360.86 669.08,361.24 669.25,360.52 669.42,362.16 669.60,361.67 669.77,361.70 669.95,361.58 670.12,362.43 670.29,362.35 670.47,362.74 670.64,363.50 670.81,362.59 670.99,362.71 671.16,363.00 671.34,365.42 671.51,363.91 671.68,364.29 671.86,365.48 672.03,365.10 672.20,365.90 672.38,365.63 672.55,367.85 672.73,365.92 672.90,367.19" fill="none" stroke="#ff0000" stroke-width="0.9" stroke-linejoin="round"/>
<line x1="102.3" y1="6.3" x2="102.3" y2="407.55" stroke="#111" stroke-width="1.5"/>
<line x1="101.65" y1="406.9" x2="680.4" y2="406.9" stroke="#111" stroke-width="1.5"/>
<line x1="94" y1="406.96" x2="102.3" y2="406.96" stroke="#111" stroke-width="1.5"/>
<text transform="translate(37.84,412.16) scale(1.0200,1)" font-size="17.7">−2000</text>
<line x1="98" y1="387.88" x2="102.3" y2="387.88" stroke="#111" stroke-width="1.5"/>
<line x1="94" y1="368.8" x2="102.3" y2="368.8" stroke="#111" stroke-width="1.5"/>
<text transform="translate(78.46,374) scale(1.0200,1)" font-size="17.7">0</text>
<line x1="98" y1="349.72" x2="102.3" y2="349.72" stroke="#111" stroke-width="1.5"/>
<line x1="94" y1="330.64" x2="102.3" y2="330.64" stroke="#111" stroke-width="1.5"/>
<text transform="translate(48.4,335.84) scale(1.0200,1)" font-size="17.7">2000</text>
<line x1="98" y1="311.56" x2="102.3" y2="311.56" stroke="#111" stroke-width="1.5"/>
<line x1="94" y1="292.48" x2="102.3" y2="292.48" stroke="#111" stroke-width="1.5"/>
<text transform="translate(48.4,297.68) scale(1.0200,1)" font-size="17.7">4000</text>
<line x1="98" y1="273.4" x2="102.3" y2="273.4" stroke="#111" stroke-width="1.5"/>
<line x1="94" y1="254.32" x2="102.3" y2="254.32" stroke="#111" stroke-width="1.5"/>
<text transform="translate(48.4,259.52) scale(1.0200,1)" font-size="17.7">6000</text>
<line x1="98" y1="235.24" x2="102.3" y2="235.24" stroke="#111" stroke-width="1.5"/>
<line x1="94" y1="216.16" x2="102.3" y2="216.16" stroke="#111" stroke-width="1.5"/>
<text transform="translate(48.4,221.36) scale(1.0200,1)" font-size="17.7">8000</text>
<line x1="98" y1="197.08" x2="102.3" y2="197.08" stroke="#111" stroke-width="1.5"/>
<line x1="94" y1="178" x2="102.3" y2="178" stroke="#111" stroke-width="1.5"/>
<path d="M763,0 L583,0 L583,1147 Q518,1085 412,1023 Q307,961 223,930 L223,1104 Q374,1175 487,1276 Q600,1377 647,1472 L763,1472 Z" transform="translate(38.38,183.2) scale(0.00882,-0.00864)"/>
<text transform="translate(48.42,183.2) scale(1.0200,1)" font-size="17.7">0000</text>
<line x1="98" y1="158.92" x2="102.3" y2="158.92" stroke="#111" stroke-width="1.5"/>
<line x1="94" y1="139.84" x2="102.3" y2="139.84" stroke="#111" stroke-width="1.5"/>
<path d="M763,0 L583,0 L583,1147 Q518,1085 412,1023 Q307,961 223,930 L223,1104 Q374,1175 487,1276 Q600,1377 647,1472 L763,1472 Z" transform="translate(38.38,145.04) scale(0.00882,-0.00864)"/>
<text transform="translate(48.42,145.04) scale(1.0200,1)" font-size="17.7">2000</text>
<line x1="98" y1="120.76" x2="102.3" y2="120.76" stroke="#111" stroke-width="1.5"/>
<line x1="94" y1="101.68" x2="102.3" y2="101.68" stroke="#111" stroke-width="1.5"/>
<path d="M763,0 L583,0 L583,1147 Q518,1085 412,1023 Q307,961 223,930 L223,1104 Q374,1175 487,1276 Q600,1377 647,1472 L763,1472 Z" transform="translate(38.38,106.88) scale(0.00882,-0.00864)"/>
<text transform="translate(48.42,106.88) scale(1.0200,1)" font-size="17.7">4000</text>
<line x1="98" y1="82.6" x2="102.3" y2="82.6" stroke="#111" stroke-width="1.5"/>
<line x1="94" y1="63.52" x2="102.3" y2="63.52" stroke="#111" stroke-width="1.5"/>
<path d="M763,0 L583,0 L583,1147 Q518,1085 412,1023 Q307,961 223,930 L223,1104 Q374,1175 487,1276 Q600,1377 647,1472 L763,1472 Z" transform="translate(38.38,68.72) scale(0.00882,-0.00864)"/>
<text transform="translate(48.42,68.72) scale(1.0200,1)" font-size="17.7">6000</text>
<line x1="98" y1="44.44" x2="102.3" y2="44.44" stroke="#111" stroke-width="1.5"/>
<line x1="94" y1="25.36" x2="102.3" y2="25.36" stroke="#111" stroke-width="1.5"/>
<path d="M763,0 L583,0 L583,1147 Q518,1085 412,1023 Q307,961 223,930 L223,1104 Q374,1175 487,1276 Q600,1377 647,1472 L763,1472 Z" transform="translate(38.38,30.56) scale(0.00882,-0.00864)"/>
<text transform="translate(48.42,30.56) scale(1.0200,1)" font-size="17.7">8000</text>
<line x1="98" y1="6.28" x2="102.3" y2="6.28" stroke="#111" stroke-width="1.5"/>
<line x1="108.05" y1="406.9" x2="108.05" y2="410.5" stroke="#111" stroke-width="1.5"/>
<line x1="151.5" y1="406.9" x2="151.5" y2="413.9" stroke="#111" stroke-width="1.5"/>
<text transform="translate(141.43,432.2) scale(1.0800,1)" font-size="16.8">30</text>
<line x1="194.95" y1="406.9" x2="194.95" y2="410.5" stroke="#111" stroke-width="1.5"/>
<line x1="238.4" y1="406.9" x2="238.4" y2="413.9" stroke="#111" stroke-width="1.5"/>
<text transform="translate(228.47,432.2) scale(1.0800,1)" font-size="16.8">40</text>
<line x1="281.85" y1="406.9" x2="281.85" y2="410.5" stroke="#111" stroke-width="1.5"/>
<line x1="325.3" y1="406.9" x2="325.3" y2="413.9" stroke="#111" stroke-width="1.5"/>
<text transform="translate(315.21,432.2) scale(1.0800,1)" font-size="16.8">50</text>
<line x1="368.75" y1="406.9" x2="368.75" y2="410.5" stroke="#111" stroke-width="1.5"/>
<line x1="412.2" y1="406.9" x2="412.2" y2="413.9" stroke="#111" stroke-width="1.5"/>
<text transform="translate(402.02,432.2) scale(1.0800,1)" font-size="16.8">60</text>
<line x1="455.65" y1="406.9" x2="455.65" y2="410.5" stroke="#111" stroke-width="1.5"/>
<line x1="499.1" y1="406.9" x2="499.1" y2="413.9" stroke="#111" stroke-width="1.5"/>
<text transform="translate(488.89,432.2) scale(1.0800,1)" font-size="16.8">70</text>
<line x1="542.55" y1="406.9" x2="542.55" y2="410.5" stroke="#111" stroke-width="1.5"/>
<line x1="586" y1="406.9" x2="586" y2="413.9" stroke="#111" stroke-width="1.5"/>
<text transform="translate(575.88,432.2) scale(1.0800,1)" font-size="16.8">80</text>
<line x1="629.45" y1="406.9" x2="629.45" y2="410.5" stroke="#111" stroke-width="1.5"/>
<line x1="672.9" y1="406.9" x2="672.9" y2="413.9" stroke="#111" stroke-width="1.5"/>
<text transform="translate(662.74,432.2) scale(1.0800,1)" font-size="16.8">90</text>
<polyline points="96.80,877.86 96.97,878.79 97.13,878.66 97.30,881.19 97.46,875.88 97.63,876.72 97.80,878.51 97.96,877.26 98.13,877.77 98.29,878.83 98.46,876.91 98.63,878.49 98.79,878.56 98.96,879.14 99.12,877.56 99.29,878.33 99.46,877.42 99.62,878.88 99.79,878.04 99.95,879.19 100.12,877.07 100.29,877.85 100.45,877.70 100.62,877.62 100.78,879.40 100.95,877.23 101.12,875.58 101.28,880.14 101.45,880.30 101.61,879.98 101.78,877.15 101.95,877.94 102.11,876.81 102.28,877.25 102.44,877.92 102.61,877.76 102.78,878.35 102.94,877.10 103.11,879.52 103.27,878.68 103.44,877.80 103.61,876.00 103.77,879.14 103.94,879.39 104.10,878.86 104.27,876.93 104.44,878.46 104.60,876.51 104.77,880.34 104.93,876.85 105.10,876.85 105.27,879.89 105.43,877.96 105.60,876.68 105.76,878.08 105.93,876.86 106.10,875.20 106.26,877.86 106.43,878.49 106.59,879.16 106.76,877.22 106.93,878.37 107.09,878.45 107.26,878.24 107.42,877.32 107.59,879.45 107.76,880.02 107.92,881.17 108.09,876.68 108.25,878.15 108.42,876.23 108.59,878.07 108.75,879.04 108.92,877.53 109.08,878.30 109.25,879.71 109.42,879.30 109.58,876.03 109.75,877.69 109.91,877.57 110.08,878.49 110.25,878.89 110.41,877.01 110.58,878.38 110.74,879.10 110.91,878.25 111.08,879.26 111.24,877.87 111.41,876.83 111.57,879.12 111.74,876.44 111.91,878.95 112.07,877.86 112.24,879.17 112.40,878.43 112.57,878.05 112.74,878.72 112.90,879.05 113.07,878.94 113.23,879.22 113.40,880.14 113.57,878.39 113.73,877.71 113.90,877.01 114.06,877.30 114.23,875.12 114.40,877.80 114.56,878.67 114.73,875.88 114.89,879.34 115.06,876.85 115.23,879.37 115.39,877.68 115.56,880.60 115.72,877.02 115.89,878.35 116.06,879.38 116.22,876.05 116.39,877.28 116.55,878.07 116.72,879.07 116.89,878.23 117.05,878.31 117.22,877.25 117.38,877.18 117.55,878.97 117.72,878.83 117.88,878.76 118.05,879.82 118.21,879.00 118.38,878.40 118.55,877.34 118.71,876.57 118.88,879.15 119.04,877.53 119.21,878.73 119.38,875.53 119.54,878.26 119.71,877.49 119.87,879.30 120.04,879.08 120.21,877.85 120.37,878.61 120.54,877.66 120.70,880.06 120.87,877.38 121.04,879.23 121.20,876.00 121.37,878.50 121.53,876.78 121.70,879.88 121.87,877.60 122.03,879.25 122.20,878.81 122.36,878.12 122.53,878.46 122.70,877.78 122.86,877.15 123.03,877.33 123.19,878.26 123.36,879.87 123.53,879.12 123.69,878.33 123.86,880.71 124.02,877.18 124.19,878.46 124.36,878.44 124.52,877.00 124.69,877.28 124.85,877.84 125.02,879.40 125.19,877.75 125.35,877.81 125.52,879.19 125.68,876.89 125.85,877.53 126.02,880.53 126.18,877.95 126.35,879.72 126.51,876.66 126.68,877.05 126.85,879.43 127.01,879.17 127.18,878.01 127.34,878.37 127.51,876.30 127.68,877.27 127.84,878.47 128.01,877.41 128.17,880.68 128.34,877.67 128.51,877.13 128.67,878.45 128.84,879.03 129.00,877.36 129.17,875.68 129.34,877.86 129.50,879.51 129.67,876.32 129.83,880.43 130.00,877.51 130.17,878.85 130.33,877.06 130.50,879.13 130.66,876.52 130.83,877.74 131.00,880.23 131.16,880.51 131.33,878.56 131.49,876.50 131.66,877.93 131.83,878.05 131.99,878.42 132.16,877.21 132.32,877.71 132.49,877.80 132.66,879.39 132.82,876.61 132.99,876.48 133.15,879.78 133.32,875.28 133.49,877.21 133.65,878.74 133.82,880.51 133.98,877.29 134.15,877.40 134.32,878.93 134.48,880.29 134.65,876.82 134.81,878.81 134.98,878.72 135.15,874.63 135.31,875.46 135.48,876.88 135.64,878.58 135.81,877.25 135.98,880.89 136.14,878.05 136.31,879.07 136.47,879.69 136.64,880.09 136.81,877.44 136.97,878.01 137.14,877.83 137.30,877.08 137.47,879.21 137.64,879.65 137.80,880.33 137.97,878.48 138.13,877.10 138.30,878.24 138.47,877.26 138.63,879.59 138.80,878.73 138.96,879.08 139.13,879.63 139.30,875.82 139.46,877.03 139.63,878.98 139.79,879.03 139.96,878.07 140.13,879.90 140.29,877.51 140.46,879.68 140.62,878.48 140.79,879.34 140.96,878.69 141.12,879.72 141.29,880.05 141.45,879.31 141.62,878.86 141.79,878.45 141.95,877.90 142.12,876.03 142.28,877.06 142.45,878.30 142.62,877.14 142.78,878.98 142.95,876.24 143.11,877.25 143.28,879.74 143.45,877.07 143.61,876.99 143.78,881.37 143.94,878.87 144.11,878.54 144.28,880.28 144.44,879.23 144.61,879.16 144.77,877.24 144.94,877.43 145.11,874.59 145.27,878.21 145.44,876.25 145.60,877.71 145.77,877.17 145.94,879.05 146.10,879.78 146.27,878.10 146.43,876.11 146.60,874.84 146.77,875.54 146.93,875.64 147.10,876.62 147.26,873.21 147.43,873.11 147.60,875.46 147.76,874.61 147.93,875.20 148.09,871.59 148.26,873.28 148.43,874.03 148.59,873.51 148.76,873.59 148.92,874.92 149.09,876.53 149.26,876.98 149.42,877.82 149.59,875.53 149.75,873.74 149.92,879.00 150.09,876.76 150.25,876.70 150.42,878.54 150.58,877.22 150.75,878.98 150.92,876.12 151.08,878.36 151.25,877.60 151.41,877.01 151.58,878.36 151.75,880.03 151.91,878.56 152.08,876.93 152.24,878.12 152.41,877.68 152.58,879.21 152.74,877.74 152.91,877.09 153.07,877.94 153.24,875.53 153.41,878.20 153.57,879.34 153.74,880.00 153.90,876.63 154.07,878.14 154.24,876.85 154.40,877.44 154.57,875.92 154.73,876.44 154.90,878.59 155.07,877.69 155.23,876.80 155.40,879.57 155.56,876.22 155.73,876.50 155.90,876.85 156.06,878.30 156.23,877.70 156.39,879.46 156.56,877.92 156.73,878.85 156.89,878.05 157.06,878.60 157.22,877.62 157.39,876.71 157.56,879.65 157.72,876.90 157.89,880.56 158.05,880.80 158.22,878.23 158.39,878.10 158.55,877.50 158.72,880.15 158.88,878.11 159.05,877.97 159.22,876.47 159.38,878.18 159.55,877.39 159.71,879.32 159.88,878.34 160.05,878.65 160.21,877.17 160.38,879.35 160.54,879.16 160.71,877.40 160.88,875.88 161.04,877.63 161.21,877.73 161.37,878.59 161.54,876.79 161.71,877.49 161.87,875.91 162.04,877.69 162.20,879.24 162.37,878.87 162.54,879.32 162.70,879.62 162.87,876.60 163.03,877.14 163.20,879.65 163.37,875.90 163.53,877.79 163.70,879.35 163.86,877.61 164.03,878.18 164.20,879.04 164.36,880.54 164.53,878.06 164.69,877.68 164.86,881.22 165.03,877.45 165.19,877.26 165.36,878.70 165.52,878.01 165.69,878.39 165.86,879.12 166.02,878.43 166.19,876.45 166.35,879.88 166.52,877.77 166.69,877.86 166.85,878.99 167.02,878.64 167.18,879.83 167.35,879.15 167.52,878.08 167.68,877.77 167.85,879.16 168.01,874.37 168.18,878.82 168.35,877.98 168.51,878.39 168.68,878.55 168.84,876.44 169.01,878.67 169.18,876.45 169.34,876.72 169.51,879.40 169.67,876.81 169.84,878.91 170.01,874.78 170.17,878.57 170.34,879.31 170.50,880.35 170.67,879.68 170.84,878.84 171.00,879.31 171.17,879.65 171.33,878.97 171.50,878.28 171.67,876.25 171.83,880.25 172.00,878.83 172.16,879.30 172.33,879.85 172.50,879.65 172.66,879.20 172.83,877.24 172.99,878.27 173.16,878.71 173.33,877.43 173.49,877.79 173.66,878.46 173.82,877.68 173.99,879.16 174.16,877.39 174.32,877.55 174.49,878.57 174.65,879.54 174.82,876.22 174.99,877.94 175.15,874.40 175.32,878.83 175.48,876.93 175.65,878.63 175.82,877.75 175.98,877.05 176.15,879.18 176.31,878.16 176.48,877.87 176.65,878.03 176.81,877.38 176.98,876.77 177.14,877.03 177.31,877.83 177.48,878.55 177.64,879.52 177.81,878.99 177.97,878.77 178.14,877.24 178.31,878.54 178.47,879.69 178.64,877.30 178.80,879.06 178.97,879.06 179.14,878.33 179.30,877.39 179.47,881.14 179.63,879.46 179.80,877.83 179.97,878.53 180.13,879.18 180.30,878.64 180.46,876.40 180.63,878.65 180.80,877.24 180.96,877.05 181.13,878.74 181.29,877.58 181.46,878.66 181.63,878.82 181.79,879.45 181.96,876.95 182.12,878.58 182.29,878.80 182.46,879.47 182.62,875.89 182.79,877.19 182.95,878.27 183.12,878.92 183.29,879.92 183.45,877.77 183.62,877.75 183.78,879.81 183.95,876.64 184.12,877.13 184.28,879.23 184.45,878.77 184.61,878.69 184.78,877.81 184.95,878.32 185.11,880.01 185.28,876.24 185.44,877.67 185.61,876.59 185.78,876.51 185.94,878.34 186.11,877.69 186.27,877.13 186.44,877.08 186.61,878.21 186.77,878.89 186.94,878.07 187.10,878.98 187.27,878.73 187.44,880.53 187.60,877.99 187.77,879.31 187.93,878.71 188.10,878.19 188.27,877.71 188.43,875.72 188.60,877.74 188.76,879.83 188.93,877.87 189.10,878.84 189.26,877.63 189.43,878.87 189.59,878.98 189.76,878.69 189.93,878.86 190.09,880.28 190.26,878.95 190.42,878.15 190.59,876.65 190.76,878.43 190.92,878.45 191.09,877.30 191.25,877.38 191.42,876.09 191.59,877.27 191.75,878.08 191.92,876.35 192.08,876.10 192.25,878.60 192.42,877.84 192.58,880.10 192.75,878.50 192.91,879.12 193.08,878.36 193.25,878.68 193.41,878.17 193.58,878.18 193.74,877.53 193.91,877.69 194.08,878.67 194.24,879.61 194.41,876.59 194.57,876.20 194.74,878.55 194.91,877.29 195.07,879.93 195.24,879.94 195.40,878.39 195.57,876.24 195.74,879.39 195.90,879.11 196.07,876.08 196.23,880.37 196.40,877.19 196.57,877.40 196.73,878.38 196.90,877.75 197.06,874.88 197.23,879.39 197.40,878.43 197.56,878.32 197.73,878.91 197.89,879.74 198.06,875.98 198.23,877.89 198.39,880.24 198.56,878.82 198.72,877.53 198.89,877.53 199.06,879.84 199.22,878.20 199.39,877.67 199.55,877.55 199.72,877.52 199.89,880.22 200.05,875.84 200.22,877.81 200.38,875.83 200.55,874.48 200.72,878.18 200.88,879.59 201.05,876.96 201.21,878.24 201.38,878.57 201.55,879.20 201.71,875.97 201.88,878.55 202.04,879.86 202.21,878.57 202.38,879.43 202.54,877.77 202.71,878.55 202.87,879.34 203.04,877.33 203.21,878.82 203.37,876.98 203.54,876.54 203.70,878.54 203.87,878.79 204.04,877.80 204.20,876.83 204.37,878.08 204.53,877.73 204.70,878.05 204.87,877.70 205.03,877.34 205.20,878.91 205.36,878.62 205.53,877.91 205.70,878.88 205.86,877.64 206.03,877.27 206.19,878.02 206.36,878.76 206.53,878.78 206.69,875.87 206.86,876.85 207.02,879.27 207.19,879.06 207.36,875.63 207.52,876.14 207.69,877.73 207.85,876.46 208.02,879.77 208.19,877.96 208.35,877.12 208.52,880.11 208.68,878.84 208.85,876.95 209.02,876.48 209.18,878.69 209.35,877.67 209.51,875.93 209.68,878.48 209.85,879.63 210.01,877.98 210.18,878.53 210.34,876.34 210.51,877.77 210.68,879.00 210.84,875.06 211.01,878.57 211.17,877.38 211.34,877.10 211.51,877.06 211.67,877.72 211.84,877.29 212.00,878.06 212.17,879.62 212.34,878.24 212.50,878.20 212.67,878.19 212.83,877.76 213.00,878.64 213.17,876.31 213.33,875.95 213.50,880.71 213.66,877.87 213.83,878.79 214.00,881.12 214.16,877.46 214.33,878.71 214.49,878.35 214.66,878.78 214.83,876.51 214.99,876.40 215.16,877.53 215.32,877.11 215.49,878.13 215.66,877.68 215.82,878.76 215.99,877.85 216.15,878.72 216.32,877.42 216.49,876.82 216.65,877.49 216.82,876.48 216.98,874.49 217.15,880.53 217.32,877.71 217.48,878.58 217.65,878.49 217.81,879.55 217.98,877.79 218.15,878.17 218.31,878.60 218.48,878.20 218.64,878.71 218.81,880.79 218.98,876.49 219.14,878.14 219.31,879.14 219.47,877.45 219.64,878.57 219.81,880.60 219.97,876.62 220.14,879.94 220.30,878.10 220.47,877.70 220.64,876.03 220.80,876.28 220.97,877.60 221.13,878.77 221.30,878.43 221.47,876.48 221.63,875.64 221.80,877.13 221.96,878.72 222.13,876.43 222.30,878.18 222.46,878.17 222.63,878.16 222.79,877.05 222.96,877.52 223.13,876.48 223.29,876.18 223.46,877.01 223.62,880.58 223.79,879.79 223.96,877.51 224.12,877.93 224.29,875.03 224.45,877.89 224.62,877.90 224.79,876.52 224.95,876.50 225.12,878.05 225.28,877.14 225.45,879.09 225.62,878.85 225.78,876.18 225.95,879.50 226.11,876.53 226.28,876.66 226.45,876.78 226.61,876.43 226.78,877.07 226.94,880.36 227.11,878.80 227.28,878.33 227.44,876.40 227.61,878.99 227.77,878.56 227.94,878.08 228.11,876.04 228.27,879.32 228.44,879.24 228.60,876.74 228.77,880.28 228.94,877.21 229.10,878.19 229.27,879.56 229.43,878.12 229.60,878.71 229.77,877.35 229.93,877.02 230.10,875.71 230.26,877.71 230.43,877.54 230.60,878.26 230.76,877.46 230.93,876.23 231.09,880.01 231.26,876.69 231.43,878.18 231.59,877.35 231.76,877.02 231.92,876.41 232.09,877.23 232.26,878.04 232.42,877.10 232.59,877.44 232.75,877.66 232.92,877.22 233.09,876.40 233.25,877.20 233.42,877.14 233.58,878.95 233.75,877.63 233.92,879.69 234.08,876.28 234.25,878.61 234.41,875.78 234.58,873.56 234.75,877.90 234.91,875.70 235.08,876.68 235.24,877.88 235.41,878.48 235.58,876.51 235.74,875.56 235.91,876.94 236.07,878.99 236.24,878.55 236.41,877.48 236.57,875.60 236.74,876.74 236.90,876.66 237.07,875.57 237.24,877.14 237.40,877.16 237.57,877.35 237.73,879.22 237.90,876.45 238.07,876.46 238.23,876.07 238.40,878.38 238.56,877.78 238.73,875.73 238.90,876.62 239.06,875.01 239.23,877.89 239.39,876.42 239.56,877.59 239.73,876.50 239.89,877.60 240.06,876.13 240.22,875.38 240.39,875.97 240.56,879.11 240.72,875.45 240.89,876.22 241.05,877.78 241.22,877.79 241.39,876.55 241.55,875.91 241.72,877.05 241.88,878.45 242.05,876.40 242.22,876.34 242.38,873.49 242.55,878.06 242.71,873.27 242.88,874.04 243.05,876.06 243.21,874.15 243.38,876.16 243.54,875.08 243.71,877.26 243.88,876.12 244.04,877.47 244.21,877.91 244.37,876.12 244.54,876.68 244.71,875.09 244.87,874.40 245.04,875.92 245.20,875.80 245.37,875.61 245.54,877.68 245.70,875.36 245.87,875.43 246.03,875.51 246.20,876.81 246.37,877.89 246.53,875.57 246.70,874.79 246.86,873.49 247.03,873.50 247.20,873.30 247.36,874.69 247.53,873.64 247.69,875.17 247.86,874.05 248.03,873.45 248.19,870.88 248.36,874.26 248.52,876.00 248.69,872.57 248.86,875.22 249.02,874.16 249.19,874.06 249.35,874.58 249.52,872.06 249.69,872.71 249.85,873.86 250.02,872.99 250.18,873.55 250.35,871.98 250.52,873.13 250.68,873.55 250.85,872.95 251.01,872.75 251.18,871.61 251.35,872.70 251.51,871.78 251.68,870.45 251.84,868.19 252.01,869.81 252.18,873.88 252.34,870.49 252.51,869.95 252.67,868.62 252.84,867.33 253.01,867.76 253.17,871.33 253.34,867.59 253.50,866.90 253.67,866.18 253.84,864.49 254.00,866.88 254.17,863.82 254.33,866.01 254.50,863.94 254.67,862.20 254.83,859.45 255.00,862.35 255.16,861.52 255.33,858.41 255.50,858.50 255.66,855.08 255.83,856.48 255.99,854.34 256.16,850.38 256.33,850.11 256.49,846.74 256.66,847.37 256.82,840.89 256.99,840.97 257.16,835.90 257.32,834.71 257.49,831.36 257.65,824.44 257.82,820.71 257.99,810.79 258.15,805.79 258.32,797.07 258.48,788.11 258.65,774.70 258.82,765.95 258.98,750.91 259.15,736.34 259.31,717.71 259.48,695.50 259.65,673.42 259.81,653.45 259.98,632.51 260.14,607.86 260.31,590.39 260.48,579.37 260.64,573.29 260.81,579.23 260.97,588.37 261.14,607.17 261.31,626.35 261.47,651.93 261.64,672.56 261.80,697.56 261.97,717.07 262.14,736.38 262.30,749.44 262.47,767.00 262.63,778.70 262.80,789.41 262.97,801.07 263.13,806.79 263.30,812.11 263.46,819.35 263.63,826.04 263.80,828.01 263.96,833.43 264.13,834.80 264.29,841.47 264.46,843.35 264.63,846.17 264.79,848.53 264.96,850.42 265.12,851.92 265.29,854.40 265.46,857.14 265.62,857.36 265.79,858.84 265.95,860.34 266.12,861.60 266.29,861.10 266.45,861.54 266.62,864.37 266.78,863.84 266.95,863.45 267.12,865.61 267.28,867.77 267.45,869.15 267.61,865.72 267.78,866.18 267.95,867.75 268.11,869.07 268.28,867.19 268.44,867.71 268.61,869.85 268.78,869.80 268.94,872.28 269.11,869.51 269.27,873.28 269.44,869.95 269.61,869.92 269.77,871.56 269.94,869.66 270.10,872.13 270.27,871.41 270.44,871.61 270.60,872.27 270.77,873.36 270.93,871.26 271.10,872.88 271.27,873.34 271.43,873.55 271.60,873.64 271.76,871.02 271.93,873.54 272.10,873.95 272.26,875.17 272.43,875.11 272.59,876.55 272.76,874.27 272.93,874.41 273.09,875.94 273.26,876.88 273.42,874.96 273.59,875.63 273.76,876.71 273.92,874.32 274.09,875.00 274.25,875.34 274.42,874.13 274.59,875.80 274.75,873.97 274.92,876.84 275.08,874.94 275.25,874.65 275.42,875.89 275.58,875.06 275.75,877.51 275.91,877.64 276.08,875.86 276.25,877.03 276.41,875.04 276.58,876.05 276.74,875.22 276.91,875.81 277.08,875.77 277.24,875.93 277.41,876.66 277.57,876.58 277.74,873.88 277.91,878.34 278.07,876.71 278.24,875.01 278.40,875.78 278.57,874.79 278.74,875.60 278.90,878.06 279.07,877.11 279.23,878.33 279.40,875.27 279.57,874.84 279.73,877.08 279.90,875.84 280.06,877.11 280.23,878.44 280.40,877.28 280.56,878.68 280.73,877.34 280.89,876.63 281.06,875.98 281.23,875.19 281.39,877.41 281.56,876.52 281.72,876.42 281.89,876.22 282.06,880.56 282.22,877.98 282.39,875.91 282.55,878.53 282.72,876.64 282.89,875.93 283.05,879.42 283.22,877.54 283.38,876.95 283.55,877.09 283.72,878.94 283.88,876.89 284.05,877.85 284.21,876.17 284.38,876.84 284.55,877.90 284.71,877.11 284.88,878.26 285.04,877.97 285.21,870.96 285.38,877.74 285.54,876.47 285.71,877.02 285.87,877.29 286.04,878.10 286.21,878.11 286.37,876.45 286.54,879.25 286.70,874.82 286.87,877.66 287.04,874.71 287.20,875.93 287.37,878.08 287.53,876.67 287.70,877.20 287.87,877.07 288.03,876.58 288.20,878.24 288.36,878.19 288.53,878.17 288.70,879.29 288.86,877.79 289.03,877.46 289.19,877.21 289.36,877.42 289.53,878.06 289.69,876.67 289.86,880.12 290.02,878.42 290.19,878.13 290.36,876.75 290.52,876.89 290.69,876.76 290.85,877.68 291.02,876.41 291.19,878.92 291.35,877.61 291.52,880.29 291.68,875.66 291.85,875.68 292.02,878.45 292.18,878.82 292.35,880.27 292.51,879.71 292.68,877.69 292.85,878.06 293.01,879.74 293.18,878.52 293.34,878.55 293.51,877.28 293.68,876.96 293.84,878.05 294.01,877.71 294.17,877.92 294.34,880.48 294.51,877.66 294.67,877.86 294.84,876.98 295.00,880.17 295.17,876.89 295.34,878.66 295.50,877.54 295.67,876.37 295.83,879.58 296.00,879.53 296.17,876.70 296.33,879.17 296.50,879.15 296.66,877.29 296.83,878.09 297.00,876.99 297.16,877.55 297.33,877.94 297.49,876.79 297.66,875.19 297.83,878.14 297.99,876.05 298.16,876.46 298.32,877.85 298.49,877.30 298.66,879.09 298.82,878.58 298.99,877.61 299.15,878.14 299.32,876.48 299.49,879.50 299.65,878.35 299.82,878.72 299.98,878.23 300.15,876.57 300.32,879.61 300.48,876.90 300.65,878.65 300.81,878.43 300.98,876.72 301.15,878.38 301.31,877.14 301.48,877.88 301.64,878.26 301.81,878.41 301.98,880.26 302.14,878.80 302.31,877.90 302.47,877.88 302.64,879.82 302.81,876.84 302.97,877.26 303.14,879.70 303.30,879.20 303.47,877.30 303.64,880.25 303.80,878.80 303.97,878.11 304.13,878.17 304.30,878.13 304.47,877.52 304.63,878.98 304.80,878.63 304.96,875.47 305.13,879.74 305.30,878.55 305.46,877.97 305.63,878.85 305.79,876.59 305.96,877.94 306.13,877.10 306.29,881.27 306.46,876.61 306.62,876.50 306.79,879.03 306.96,876.39 307.12,877.73 307.29,876.80 307.45,875.72 307.62,877.88 307.79,879.24 307.95,878.10 308.12,879.67 308.28,878.98 308.45,878.98 308.62,879.01 308.78,876.61 308.95,877.09 309.11,879.23 309.28,870.49 309.45,880.10 309.61,878.87 309.78,878.24 309.94,876.64 310.11,877.15 310.28,877.48 310.44,876.46 310.61,877.01 310.77,876.37 310.94,879.00 311.11,880.17 311.27,878.56 311.44,877.01 311.60,877.68 311.77,877.12 311.94,877.10 312.10,877.37 312.27,877.01 312.43,878.98 312.60,876.80 312.77,879.35 312.93,878.14 313.10,879.75 313.26,877.42 313.43,879.91 313.60,876.37 313.76,879.77 313.93,877.65 314.09,878.15 314.26,879.08 314.43,876.44 314.59,878.58 314.76,876.38 314.92,879.33 315.09,878.98 315.26,880.53 315.42,877.33 315.59,876.89 315.75,877.83 315.92,878.23 316.09,879.19 316.25,875.24 316.42,877.08 316.58,880.40 316.75,878.42 316.92,881.25 317.08,876.16 317.25,875.68 317.41,876.23 317.58,878.12 317.75,878.73 317.91,879.79 318.08,877.38 318.24,878.98 318.41,878.48 318.58,878.91 318.74,878.56 318.91,876.93 319.07,876.00 319.24,877.92 319.41,877.95 319.57,879.52 319.74,879.60 319.90,879.33 320.07,876.99 320.24,877.79 320.40,876.86 320.57,877.57 320.73,878.66 320.90,879.68 321.07,878.49 321.23,879.80 321.40,875.66 321.56,877.73 321.73,878.49 321.90,875.57 322.06,878.47 322.23,877.33 322.39,878.28 322.56,877.65 322.73,878.49 322.89,877.53 323.06,876.40 323.22,879.60 323.39,880.77 323.56,876.37 323.72,877.85 323.89,877.08 324.05,878.51 324.22,876.20 324.39,875.73 324.55,879.55 324.72,877.24 324.88,878.88 325.05,880.02 325.22,878.56 325.38,877.30 325.55,879.79 325.71,879.84 325.88,876.56 326.05,878.03 326.21,877.57 326.38,879.50 326.54,878.94 326.71,877.98 326.88,877.88 327.04,877.98 327.21,876.06 327.37,877.99 327.54,880.04 327.71,879.25 327.87,878.30 328.04,876.49 328.20,879.00 328.37,878.68 328.54,878.24 328.70,879.06 328.87,879.12 329.03,878.46 329.20,876.99 329.37,877.57 329.53,878.58 329.70,877.66 329.86,879.77 330.03,876.91 330.20,877.26 330.36,877.82 330.53,880.30 330.69,875.65 330.86,881.78 331.03,879.52 331.19,879.30 331.36,877.37 331.52,880.10 331.69,877.94 331.86,878.36 332.02,878.57 332.19,877.13 332.35,876.48 332.52,877.63 332.69,878.60 332.85,880.98 333.02,876.31 333.18,878.54 333.35,880.58 333.52,878.00 333.68,876.44 333.85,878.30 334.01,879.64 334.18,875.37 334.35,877.42 334.51,877.75 334.68,876.87 334.84,880.79 335.01,878.24 335.18,878.33 335.34,875.33 335.51,878.87 335.67,878.94 335.84,879.94 336.01,879.24 336.17,878.41 336.34,878.01 336.50,878.54 336.67,875.71 336.84,877.55 337.00,877.40 337.17,876.48 337.33,877.35 337.50,878.76 337.67,880.02 337.83,877.70 338.00,879.16 338.16,876.55 338.33,879.18 338.50,880.93 338.66,878.05 338.83,876.81 338.99,878.53 339.16,877.90 339.33,877.89 339.49,875.99 339.66,877.81 339.82,878.27 339.99,879.01 340.16,880.16 340.32,876.43 340.49,876.76 340.65,879.38 340.82,877.43 340.99,877.76 341.15,878.68 341.32,878.56 341.48,877.27 341.65,879.73 341.82,878.93 341.98,878.28 342.15,878.13 342.31,878.42 342.48,877.86 342.65,877.54 342.81,879.34 342.98,878.12 343.14,878.90 343.31,876.26 343.48,879.89 343.64,878.52 343.81,877.29 343.97,878.62 344.14,878.59 344.31,878.82 344.47,877.84 344.64,879.58 344.80,878.31 344.97,878.30 345.14,879.93 345.30,877.92 345.47,878.74 345.63,877.81 345.80,877.03 345.97,877.75 346.13,879.66 346.30,877.74 346.46,880.08 346.63,879.15 346.80,876.13 346.96,878.20 347.13,876.17 347.29,878.48 347.46,878.21 347.63,879.59 347.79,877.03 347.96,878.42 348.12,877.41 348.29,877.71 348.46,877.37 348.62,877.69 348.79,878.20 348.95,878.17 349.12,879.04 349.29,880.88 349.45,877.58 349.62,875.53 349.78,876.77 349.95,867.88 350.12,877.52 350.28,879.35 350.45,879.30 350.61,877.15 350.78,877.74 350.95,878.34 351.11,877.13 351.28,879.23 351.44,877.44 351.61,878.49 351.78,877.84 351.94,876.51 352.11,878.36 352.27,876.42 352.44,876.39 352.61,879.02 352.77,875.19 352.94,879.69 353.10,878.29 353.27,877.18 353.44,880.87 353.60,876.74 353.77,876.54 353.93,878.30 354.10,877.72 354.27,877.79 354.43,878.23 354.60,876.77 354.76,878.46 354.93,878.20 355.10,877.56 355.26,877.05 355.43,876.74 355.59,879.90 355.76,880.63 355.93,878.23 356.09,878.15 356.26,879.46 356.42,877.65 356.59,877.30 356.76,877.63 356.92,876.05 357.09,879.46 357.25,878.11 357.42,875.65 357.59,877.22 357.75,879.48 357.92,877.76 358.08,876.60 358.25,875.48 358.42,877.22 358.58,876.60 358.75,879.41 358.91,878.42 359.08,876.58 359.25,879.28 359.41,878.18 359.58,880.42 359.74,876.19 359.91,878.17 360.08,877.38 360.24,879.96 360.41,879.71 360.57,875.76 360.74,878.48 360.91,878.68 361.07,877.35 361.24,877.34 361.40,880.57 361.57,879.32 361.74,878.04 361.90,878.10 362.07,877.60 362.23,878.65 362.40,878.41 362.57,877.84 362.73,878.99 362.90,879.07 363.06,878.84 363.23,878.01 363.40,878.34 363.56,878.66 363.73,878.39 363.89,878.14 364.06,877.69 364.23,877.67 364.39,879.71 364.56,876.81 364.72,880.04 364.89,877.30 365.06,878.92 365.22,877.34 365.39,876.76 365.55,880.45 365.72,877.28 365.89,877.77 366.05,878.69 366.22,877.65 366.38,878.69 366.55,877.79 366.72,879.42 366.88,877.21 367.05,877.40 367.21,877.14 367.38,878.94 367.55,875.84 367.71,875.61 367.88,878.22 368.04,878.67 368.21,878.59 368.38,877.30 368.54,876.83 368.71,878.94 368.87,880.74 369.04,877.46 369.21,878.25 369.37,877.88 369.54,877.57 369.70,879.50 369.87,878.07 370.04,878.51 370.20,877.69 370.37,876.52 370.53,878.06 370.70,879.26 370.87,876.66 371.03,877.25 371.20,878.44 371.36,880.27 371.53,879.14 371.70,877.92 371.86,877.54 372.03,878.82 372.19,877.54 372.36,878.97 372.53,878.62 372.69,877.47 372.86,878.43 373.02,877.97 373.19,877.06 373.36,876.81 373.52,878.88 373.69,878.50 373.85,879.75 374.02,879.83 374.19,877.74 374.35,878.74 374.52,880.41 374.68,877.57 374.85,879.25 375.02,878.53 375.18,877.63 375.35,877.68 375.51,878.24 375.68,880.67 375.85,877.51 376.01,878.94 376.18,879.94 376.34,880.89 376.51,876.54 376.68,878.02 376.84,877.96 377.01,877.39 377.17,878.30 377.34,879.85 377.51,877.44 377.67,876.88 377.84,877.50 378.00,876.28 378.17,875.85 378.34,879.14 378.50,878.64 378.67,877.01 378.83,877.90 379.00,877.87 379.17,876.99 379.33,877.18 379.50,878.68 379.66,877.98 379.83,878.95 380.00,878.41 380.16,879.49 380.33,880.57 380.49,878.79 380.66,878.79 380.83,877.08 380.99,876.21 381.16,878.14 381.32,877.53 381.49,878.89 381.66,879.19 381.82,878.40 381.99,878.40 382.15,877.73 382.32,877.93 382.49,876.09 382.65,878.44 382.82,880.09 382.98,878.01 383.15,878.90 383.32,877.79 383.48,876.73 383.65,878.83 383.81,878.20 383.98,877.48 384.15,879.24 384.31,877.75 384.48,877.50 384.64,877.09 384.81,876.79 384.98,877.41 385.14,877.59 385.31,879.89 385.47,881.45 385.64,879.24 385.81,876.32 385.97,877.98 386.14,880.87 386.30,878.57 386.47,877.60 386.64,880.48 386.80,877.41 386.97,879.42 387.13,876.83 387.30,878.07 387.47,874.27 387.63,879.71 387.80,877.72 387.96,879.88 388.13,876.70 388.30,877.90 388.46,876.90 388.63,877.94 388.79,879.52 388.96,878.91 389.13,879.58 389.29,879.42 389.46,877.91 389.62,876.76 389.79,877.13 389.96,877.42 390.12,878.84 390.29,877.49 390.45,879.16 390.62,877.83 390.79,877.05 390.95,878.27 391.12,878.70 391.28,878.62 391.45,877.29 391.62,878.48 391.78,879.85 391.95,878.56 392.11,879.34 392.28,876.19 392.45,878.12 392.61,879.86 392.78,877.74 392.94,877.09 393.11,877.60 393.28,878.52 393.44,877.80 393.61,877.75 393.77,876.76 393.94,877.54 394.11,875.27 394.27,878.30 394.44,876.14 394.60,877.91 394.77,880.13 394.94,879.51 395.10,880.24 395.27,880.15 395.43,876.61 395.60,878.85 395.77,877.28 395.93,879.07 396.10,878.02 396.26,879.30 396.43,877.00 396.60,878.29 396.76,878.62 396.93,878.27 397.09,875.39 397.26,877.52 397.43,877.00 397.59,879.51 397.76,878.82 397.92,877.68 398.09,880.29 398.26,876.41 398.42,877.64 398.59,877.96 398.75,878.27 398.92,878.32 399.09,878.58 399.25,876.18 399.42,877.18 399.58,876.41 399.75,878.35 399.92,879.13 400.08,876.34 400.25,879.48 400.41,878.77 400.58,877.02 400.75,876.80 400.91,879.64 401.08,878.36 401.24,878.01 401.41,878.20 401.58,879.05 401.74,877.14 401.91,878.63 402.07,878.25 402.24,880.76 402.41,878.18 402.57,880.40 402.74,877.05 402.90,877.41 403.07,878.63 403.24,877.76 403.40,877.81 403.57,878.16 403.73,877.48 403.90,878.04 404.07,878.46 404.23,878.93 404.40,875.99 404.56,877.78 404.73,878.04 404.90,877.05 405.06,878.36 405.23,878.39 405.39,877.08 405.56,876.50 405.73,877.19 405.89,879.67 406.06,877.87 406.22,878.00 406.39,877.40 406.56,879.03 406.72,879.09 406.89,878.04 407.05,878.92 407.22,879.30 407.39,877.90 407.55,876.75 407.72,877.68 407.88,876.59 408.05,879.08 408.22,877.02 408.38,877.92 408.55,878.95 408.71,878.38 408.88,878.90 409.05,878.19 409.21,878.73 409.38,876.41 409.54,878.36 409.71,879.70 409.88,878.27 410.04,877.26 410.21,878.11 410.37,876.82 410.54,878.97 410.71,878.93 410.87,875.84 411.04,877.81 411.20,877.23 411.37,877.20 411.54,877.19 411.70,877.75 411.87,877.93 412.03,876.41 412.20,878.35 412.37,877.64 412.53,876.78 412.70,878.24 412.86,879.76 413.03,877.19 413.20,876.58 413.36,877.41 413.53,879.75 413.69,876.81 413.86,875.19 414.03,879.57 414.19,880.96 414.36,877.89 414.52,877.63 414.69,876.74 414.86,876.51 415.02,877.57 415.19,876.92 415.35,876.97 415.52,877.44 415.69,877.46 415.85,877.83 416.02,876.74 416.18,876.90 416.35,877.94 416.52,876.15 416.68,878.34 416.85,877.62 417.01,877.09 417.18,879.79 417.35,877.87 417.51,876.24 417.68,876.38 417.84,878.66 418.01,878.38 418.18,878.43 418.34,877.45 418.51,877.26 418.67,879.07 418.84,876.62 419.01,877.16 419.17,877.15 419.34,877.96 419.50,877.34 419.67,878.99 419.84,876.63 420.00,876.64 420.17,876.93 420.33,878.31 420.50,875.12 420.67,875.43 420.83,878.87 421.00,876.13 421.16,876.29 421.33,879.72 421.50,875.74 421.66,875.51 421.83,875.43 421.99,876.10 422.16,877.07 422.33,876.72 422.49,875.28 422.66,874.49 422.82,876.53 422.99,875.80 423.16,874.49 423.32,877.87 423.49,874.70 423.65,875.18 423.82,877.27 423.99,873.46 424.15,875.02 424.32,873.02 424.48,871.53 424.65,874.29 424.82,873.47 424.98,871.86 425.15,873.13 425.31,869.51 425.48,869.81 425.65,866.83 425.81,869.97 425.98,866.26 426.14,864.92 426.31,866.50 426.48,861.93 426.64,863.93 426.81,859.71 426.97,860.29 427.14,856.01 427.31,852.61 427.47,853.29 427.64,850.63 427.80,847.59 427.97,848.14 428.14,845.85 428.30,843.89 428.47,841.01 428.63,838.32 428.80,838.39 428.97,836.18 429.13,838.42 429.30,834.78 429.46,837.19 429.63,834.96 429.80,835.29 429.96,837.30 430.13,845.79 430.29,849.23 430.46,852.93 430.63,859.36 430.79,860.78 430.96,864.09 431.12,869.40 431.29,871.10 431.46,873.35 431.62,873.10 431.79,872.59 431.95,875.09 432.12,871.93 432.29,877.81 432.45,876.71 432.62,875.50 432.78,877.89 432.95,876.17 433.12,875.85 433.28,876.41 433.45,877.37 433.61,876.04 433.78,876.60 433.95,876.28 434.11,876.43 434.28,878.09 434.44,878.75 434.61,877.87 434.78,877.26 434.94,877.70 435.11,876.30 435.27,877.23 435.44,876.42 435.61,877.38 435.77,878.53 435.94,876.60 436.10,877.01 436.27,878.72 436.44,878.10 436.60,874.34 436.77,881.68 436.93,876.38 437.10,877.71 437.27,877.93 437.43,878.13 437.60,878.37 437.76,875.04 437.93,878.48 438.10,878.28 438.26,876.87 438.43,877.39 438.59,878.14 438.76,878.25 438.93,879.51 439.09,876.56 439.26,879.26 439.42,880.97 439.59,876.67 439.76,876.92 439.92,877.55 440.09,878.60 440.25,876.49 440.42,879.37 440.59,880.59 440.75,877.82 440.92,877.10 441.08,877.24 441.25,875.46 441.42,876.92 441.58,878.24 441.75,878.26 441.91,876.86 442.08,878.04 442.25,878.07 442.41,880.20 442.58,878.39 442.74,879.64 442.91,877.72 443.08,877.79 443.24,877.10 443.41,875.86 443.57,878.37 443.74,876.30 443.91,879.43 444.07,877.82 444.24,876.81 444.40,875.59 444.57,879.38 444.74,878.31 444.90,877.92 445.07,878.21 445.23,879.15 445.40,880.04 445.57,879.51 445.73,878.11 445.90,879.67 446.06,875.89 446.23,876.51 446.40,880.40 446.56,878.63 446.73,876.39 446.89,876.29 447.06,876.60 447.23,879.82 447.39,878.45 447.56,876.55 447.72,877.90 447.89,878.69 448.06,877.50 448.22,876.94 448.39,877.92 448.55,877.77 448.72,876.78 448.89,878.66 449.05,879.16 449.22,877.19 449.38,879.55 449.55,877.48 449.72,878.97 449.88,877.05 450.05,879.62 450.21,876.60 450.38,877.68 450.55,878.43 450.71,879.09 450.88,878.26 451.04,879.26 451.21,879.62 451.38,876.74 451.54,877.40 451.71,876.60 451.87,879.82 452.04,880.46 452.21,880.07 452.37,877.29 452.54,877.13 452.70,880.44 452.87,876.82 453.04,878.65 453.20,879.62 453.37,878.17 453.53,877.35 453.70,878.29 453.87,878.29 454.03,879.13 454.20,879.82 454.36,878.61 454.53,880.12 454.70,877.37 454.86,879.25 455.03,876.48 455.19,880.03 455.36,876.40 455.53,879.15 455.69,879.26 455.86,877.71 456.02,876.96 456.19,878.20 456.36,878.56 456.52,875.68 456.69,877.55 456.85,879.67 457.02,878.50 457.19,876.02 457.35,877.79 457.52,877.11 457.68,875.50 457.85,878.83 458.02,877.65 458.18,878.97 458.35,878.24 458.51,877.43 458.68,879.73 458.85,877.95 459.01,877.99 459.18,876.83 459.34,878.90 459.51,879.66 459.68,877.65 459.84,879.48 460.01,877.95 460.17,877.50 460.34,879.33 460.51,878.27 460.67,879.48 460.84,881.59 461.00,879.93 461.17,880.72 461.34,878.21 461.50,879.43 461.67,878.29 461.83,878.14 462.00,876.85 462.17,878.56 462.33,878.62 462.50,877.49 462.66,876.11 462.83,878.23 463.00,877.70 463.16,878.35 463.33,878.94 463.49,880.01 463.66,878.23 463.83,878.48 463.99,878.47 464.16,875.66 464.32,878.60 464.49,877.78 464.66,878.57 464.82,876.71 464.99,878.51 465.15,875.83 465.32,878.47 465.49,877.17 465.65,876.87 465.82,878.43 465.98,877.12 466.15,878.03 466.32,879.07 466.48,878.99 466.65,877.77 466.81,875.93 466.98,878.66 467.15,877.46 467.31,879.10 467.48,877.84 467.64,879.78 467.81,879.06 467.98,878.13 468.14,879.11 468.31,878.42 468.47,876.90 468.64,878.24 468.81,878.97 468.97,879.67 469.14,878.83 469.30,876.65 469.47,878.14 469.64,878.30 469.80,877.31 469.97,877.12 470.13,876.87 470.30,878.66 470.47,879.30 470.63,880.23 470.80,879.00 470.96,878.50 471.13,877.23 471.30,877.66 471.46,878.82 471.63,877.04 471.79,879.69 471.96,879.43 472.13,879.52 472.29,879.44 472.46,878.42 472.62,879.14 472.79,879.13 472.96,876.52 473.12,880.01 473.29,879.44 473.45,878.39 473.62,877.64 473.79,877.58 473.95,878.50 474.12,878.65 474.28,878.47 474.45,877.20 474.62,879.22 474.78,881.03 474.95,877.89 475.11,879.53 475.28,878.24 475.45,876.45 475.61,878.00 475.78,875.87 475.94,880.11 476.11,877.85 476.28,877.68 476.44,877.16 476.61,879.03 476.77,877.96 476.94,878.03 477.11,877.99 477.27,879.82 477.44,880.21 477.60,877.50 477.77,877.65 477.94,878.00 478.10,877.37 478.27,876.82 478.43,879.60 478.60,877.20 478.77,876.30 478.93,876.85 479.10,877.42 479.26,877.23 479.43,879.94 479.60,878.74 479.76,876.81 479.93,876.23 480.09,877.46 480.26,878.59 480.43,878.22 480.59,877.12 480.76,875.64 480.92,877.14 481.09,878.73 481.26,877.30 481.42,877.48 481.59,875.15 481.75,877.46 481.92,878.09 482.09,878.16 482.25,879.56 482.42,879.42 482.58,878.62 482.75,879.06 482.92,877.78 483.08,878.07 483.25,876.91 483.41,876.21 483.58,877.88 483.75,878.33 483.91,880.39 484.08,877.62 484.24,877.31 484.41,879.12 484.58,878.52 484.74,878.96 484.91,876.81 485.07,877.25 485.24,876.58 485.41,879.56 485.57,874.76 485.74,879.14 485.90,879.33 486.07,877.88 486.24,878.71 486.40,875.83 486.57,878.51 486.73,878.89 486.90,876.82 487.07,876.59 487.23,879.14 487.40,878.63 487.56,878.49 487.73,878.29 487.90,875.95 488.06,876.55 488.23,876.75 488.39,876.55 488.56,878.03 488.73,877.03 488.89,878.16 489.06,879.03 489.22,876.04 489.39,880.26 489.56,878.08 489.72,878.75 489.89,880.07 490.05,878.55 490.22,878.07 490.39,877.54 490.55,879.17 490.72,877.12 490.88,877.73 491.05,877.12 491.22,880.47 491.38,878.69 491.55,878.85 491.71,877.39 491.88,879.09 492.05,878.72 492.21,879.55 492.38,879.56 492.54,879.37 492.71,876.86 492.88,879.45 493.04,881.14 493.21,877.72 493.37,878.72 493.54,877.41 493.71,877.55 493.87,878.46 494.04,878.59 494.20,878.78 494.37,878.21 494.54,879.07 494.70,877.88 494.87,876.45 495.03,879.00 495.20,878.93 495.37,878.95 495.53,877.38 495.70,877.29 495.86,876.37 496.03,877.23 496.20,877.97 496.36,877.59 496.53,879.73 496.69,877.44 496.86,877.89 497.03,875.49 497.19,876.51 497.36,879.12 497.52,878.90 497.69,877.05 497.86,880.73 498.02,879.23 498.19,877.59 498.35,877.36 498.52,877.88 498.69,876.73 498.85,878.44 499.02,877.94 499.18,878.40 499.35,879.49 499.52,878.13 499.68,878.78 499.85,878.00 500.01,881.35 500.18,877.95 500.35,878.86 500.51,878.86 500.68,878.07 500.84,878.77 501.01,877.05 501.18,876.62 501.34,877.00 501.51,876.88 501.67,877.65 501.84,878.02 502.01,879.69 502.17,878.60 502.34,876.57 502.50,877.15 502.67,878.77 502.84,878.00 503.00,876.77 503.17,878.26 503.33,876.10 503.50,879.09 503.67,877.13 503.83,877.18 504.00,877.86 504.16,877.68 504.33,877.49 504.50,880.91 504.66,877.51 504.83,876.68 504.99,877.62 505.16,876.78 505.33,879.54 505.49,878.17 505.66,877.72 505.82,878.38 505.99,876.52 506.16,877.49 506.32,878.73 506.49,877.05 506.65,876.99 506.82,878.62 506.99,877.33 507.15,877.64 507.32,877.56 507.48,879.59 507.65,876.48 507.82,877.29 507.98,878.14 508.15,877.69 508.31,877.62 508.48,878.38 508.65,878.84 508.81,877.91 508.98,878.90 509.14,878.79 509.31,879.53 509.48,878.41 509.64,876.81 509.81,877.85 509.97,878.07 510.14,878.42 510.31,878.74 510.47,879.90 510.64,876.04 510.80,879.04 510.97,879.97 511.14,877.52 511.30,877.92 511.47,878.75 511.63,879.98 511.80,879.80 511.97,876.16 512.13,878.23 512.30,878.87 512.46,875.77 512.63,878.74 512.80,879.29 512.96,877.46 513.13,877.59 513.29,876.19 513.46,879.97 513.63,877.68 513.79,880.32 513.96,877.42 514.12,878.86 514.29,878.62 514.46,878.94 514.62,877.01 514.79,876.03 514.95,878.22 515.12,878.40 515.29,878.73 515.45,877.45 515.62,879.34 515.78,873.71 515.95,878.38 516.12,876.00 516.28,877.94 516.45,879.79 516.61,880.05 516.78,878.64 516.95,878.93 517.11,878.35 517.28,879.53 517.44,875.23 517.61,875.57 517.78,880.34 517.94,877.49 518.11,876.63 518.27,878.53 518.44,878.33 518.61,876.71 518.77,877.45 518.94,879.51 519.10,876.52 519.27,878.59 519.44,875.79 519.60,879.30 519.77,880.93 519.93,877.97 520.10,876.64 520.27,877.41 520.43,877.94 520.60,879.35 520.76,876.93 520.93,880.40 521.10,877.10 521.26,879.63 521.43,878.95 521.59,879.65 521.76,879.21 521.93,876.27 522.09,879.56 522.26,877.81 522.42,879.09 522.59,876.85 522.76,879.81 522.92,878.18 523.09,876.98 523.25,875.32 523.42,879.56 523.59,879.25 523.75,878.22 523.92,876.38 524.08,879.41 524.25,877.12 524.42,878.93 524.58,879.36 524.75,880.07 524.91,877.96 525.08,876.96 525.25,878.25 525.41,880.58 525.58,878.85 525.74,876.94 525.91,877.01 526.08,877.84 526.24,876.26 526.41,879.79 526.57,879.67 526.74,875.14 526.91,877.28 527.07,878.33 527.24,878.74 527.40,881.36 527.57,877.04 527.74,880.72 527.90,880.55 528.07,878.22 528.23,876.23 528.40,878.64 528.57,877.65 528.73,878.69 528.90,877.63 529.06,880.35 529.23,875.42 529.40,879.39 529.56,877.41 529.73,880.73 529.89,875.78 530.06,877.51 530.23,875.50 530.39,878.96 530.56,876.80 530.72,878.27 530.89,878.18 531.06,876.34 531.22,879.18 531.39,877.13 531.55,875.65 531.72,875.81 531.89,876.74 532.05,877.74 532.22,879.29 532.38,876.32 532.55,878.92 532.72,876.53 532.88,878.49 533.05,878.05 533.21,878.15 533.38,877.33 533.55,878.51 533.71,877.88 533.88,878.81 534.04,877.39 534.21,877.61 534.38,877.45 534.54,879.10 534.71,877.62 534.87,878.00 535.04,877.28 535.21,877.95 535.37,879.25 535.54,877.22 535.70,878.90 535.87,877.71 536.04,880.69 536.20,877.39 536.37,877.19 536.53,879.22 536.70,877.25 536.87,878.50 537.03,876.32 537.20,877.14 537.36,879.55 537.53,878.14 537.70,880.17 537.86,878.39 538.03,877.32 538.19,877.01 538.36,878.24 538.53,878.31 538.69,877.83 538.86,878.74 539.02,877.53 539.19,876.59 539.36,877.70 539.52,876.75 539.69,878.96 539.85,878.60 540.02,877.46 540.19,875.35 540.35,876.58 540.52,875.86 540.68,877.97 540.85,876.28 541.02,879.95 541.18,877.26 541.35,880.68 541.51,876.25 541.68,877.20 541.85,876.37 542.01,877.50 542.18,878.50 542.34,878.86 542.51,877.63 542.68,875.91 542.84,877.10 543.01,878.61 543.17,878.65 543.34,878.72 543.51,878.18 543.67,877.99 543.84,878.49 544.00,877.90 544.17,879.86 544.34,875.98 544.50,877.43 544.67,875.89 544.83,877.49 545.00,877.92 545.17,877.70 545.33,877.47 545.50,878.61 545.66,878.30 545.83,875.46 546.00,876.64 546.16,878.33 546.33,877.18 546.49,878.81 546.66,876.05 546.83,878.99 546.99,876.62 547.16,877.76 547.32,877.66 547.49,878.78 547.66,877.99 547.82,878.64 547.99,878.78 548.15,877.10 548.32,874.53 548.49,878.03 548.65,876.35 548.82,877.61 548.98,878.51 549.15,875.99 549.32,876.82 549.48,876.25 549.65,877.53 549.81,877.43 549.98,878.60 550.15,878.02 550.31,875.46 550.48,880.42 550.64,877.11 550.81,875.76 550.98,876.57 551.14,876.35 551.31,877.99 551.47,876.08 551.64,876.21 551.81,877.52 551.97,875.47 552.14,878.22 552.30,880.47 552.47,877.63 552.64,877.67 552.80,878.61 552.97,878.04 553.13,878.22 553.30,879.66 553.47,875.79 553.63,877.28 553.80,873.96 553.96,877.45 554.13,876.90 554.30,879.20 554.46,876.08 554.63,878.72 554.79,876.86 554.96,876.21 555.13,876.30 555.29,878.31 555.46,878.03 555.62,876.62 555.79,875.91 555.96,875.55 556.12,877.14 556.29,877.16 556.45,875.03 556.62,877.86 556.79,876.11 556.95,877.45 557.12,878.81 557.28,878.51 557.45,876.57 557.62,876.88 557.78,876.51 557.95,877.32 558.11,877.58 558.28,876.60 558.45,877.23 558.61,878.83 558.78,877.25 558.94,874.83 559.11,877.54 559.28,875.99 559.44,877.11 559.61,875.73 559.77,877.67 559.94,878.00 560.11,876.02 560.27,877.68 560.44,876.74 560.60,877.01 560.77,875.13 560.94,876.16 561.10,876.29 561.27,877.40 561.43,878.02 561.60,877.38 561.77,875.04 561.93,875.01 562.10,875.14 562.26,876.18 562.43,876.89 562.60,874.21 562.76,875.53 562.93,874.60 563.09,876.56 563.26,876.26 563.43,874.59 563.59,874.23 563.76,876.45 563.92,874.68 564.09,876.15 564.26,873.20 564.42,874.04 564.59,871.67 564.75,872.58 564.92,875.18 565.09,873.98 565.25,874.61 565.42,873.44 565.58,872.20 565.75,873.22 565.92,872.53 566.08,874.44 566.25,871.61 566.41,871.57 566.58,870.69 566.75,869.69 566.91,870.42 567.08,869.27 567.24,869.47 567.41,867.49 567.58,867.65 567.74,867.60 567.91,866.04 568.07,866.27 568.24,865.49 568.41,863.67 568.57,861.99 568.74,860.14 568.90,858.92 569.07,856.37 569.24,857.20 569.40,851.89 569.57,849.02 569.73,846.68 569.90,844.49 570.07,843.17 570.23,840.07 570.40,837.18 570.56,834.78 570.73,830.73 570.90,827.49 571.06,828.97 571.23,822.49 571.39,818.57 571.56,818.04 571.73,813.20 571.89,812.13 572.06,808.58 572.22,807.71 572.39,804.16 572.56,805.10 572.72,801.99 572.89,801.67 573.05,803.63 573.22,807.34 573.39,809.45 573.55,813.47 573.72,820.06 573.88,825.49 574.05,830.31 574.22,835.45 574.38,842.31 574.55,846.34 574.71,853.14 574.88,854.03 575.05,857.62 575.21,861.77 575.38,864.11 575.54,867.24 575.71,867.71 575.88,869.05 576.04,872.04 576.21,871.55 576.37,871.05 576.54,872.10 576.71,872.97 576.87,874.34 577.04,872.91 577.20,874.34 577.37,874.04 577.54,872.05 577.70,877.69 577.87,875.86 578.03,875.62 578.20,876.44 578.37,874.48 578.53,875.91 578.70,873.85 578.86,875.23 579.03,875.58 579.20,876.53 579.36,875.23 579.53,875.73 579.69,874.81 579.86,876.14 580.03,875.64 580.19,876.21 580.36,876.30 580.52,878.90 580.69,876.83 580.86,876.60 581.02,878.26 581.19,878.97 581.35,877.49 581.52,876.68 581.69,879.37 581.85,876.90 582.02,876.07 582.18,877.59 582.35,877.08 582.52,876.83 582.68,878.20 582.85,876.66 583.01,876.91 583.18,878.87 583.35,876.81 583.51,876.37 583.68,878.77 583.84,876.57 584.01,877.96 584.18,879.03 584.34,879.02 584.51,878.73 584.67,876.90 584.84,878.23 585.01,878.15 585.17,879.07 585.34,877.73 585.50,879.11 585.67,878.63 585.84,877.09 586.00,876.93 586.17,878.36 586.33,877.63 586.50,877.07 586.67,877.76 586.83,876.25 587.00,876.14 587.16,877.94 587.33,879.34 587.50,877.95 587.66,876.20 587.83,876.55 587.99,876.43 588.16,876.59 588.33,878.37 588.49,877.63 588.66,876.49 588.82,877.55 588.99,876.70 589.16,878.98 589.32,879.39 589.49,875.37 589.65,876.93 589.82,877.24 589.99,876.00 590.15,875.12 590.32,874.33 590.48,880.80 590.65,877.41 590.82,876.69 590.98,880.24 591.15,880.18 591.31,878.00 591.48,875.68 591.65,876.71 591.81,875.32 591.98,877.57 592.14,876.59 592.31,876.13 592.48,877.37 592.64,878.14 592.81,877.79 592.97,882.42 593.14,877.58 593.31,880.31 593.47,879.03 593.64,877.26 593.80,877.58 593.97,880.43 594.14,877.24 594.30,877.03 594.47,877.76 594.63,877.16 594.80,877.28 594.97,880.01 595.13,878.28 595.30,878.38 595.46,879.50 595.63,878.05 595.80,879.02 595.96,878.21 596.13,879.20 596.29,876.75 596.46,875.26 596.63,878.64 596.79,877.98 596.96,878.05 597.12,877.53 597.29,878.35 597.46,880.82 597.62,877.56 597.79,878.22 597.95,879.27 598.12,878.33 598.29,878.69 598.45,877.77 598.62,878.45 598.78,878.42 598.95,877.94 599.12,877.73 599.28,878.10 599.45,876.64 599.61,877.77 599.78,879.06 599.95,876.02 600.11,877.93 600.28,876.14 600.44,879.45 600.61,877.45 600.78,876.09 600.94,876.60 601.11,877.98 601.27,878.95 601.44,878.87 601.61,878.33 601.77,879.34 601.94,879.07 602.10,879.29 602.27,879.32 602.44,877.88 602.60,880.25 602.77,877.83 602.93,877.31 603.10,879.34 603.27,879.29 603.43,878.10 603.60,878.22 603.76,877.02 603.93,880.70 604.10,878.26 604.26,876.49 604.43,878.12 604.59,876.06 604.76,875.55 604.93,879.00 605.09,876.45 605.26,877.65 605.42,878.32 605.59,878.65 605.76,878.58 605.92,879.47 606.09,878.55 606.25,877.20 606.42,876.83 606.59,878.88 606.75,877.76 606.92,877.84 607.08,881.36 607.25,877.58 607.42,879.99 607.58,879.90 607.75,877.46 607.91,876.44 608.08,879.90 608.25,879.63 608.41,879.73 608.58,879.22 608.74,879.06 608.91,879.63 609.08,880.63 609.24,876.44 609.41,879.26 609.57,879.60 609.74,877.56 609.91,879.14 610.07,877.36 610.24,877.75 610.40,877.51 610.57,879.24 610.74,877.97 610.90,880.69 611.07,880.48 611.23,878.71 611.40,879.19 611.57,877.16 611.73,879.17 611.90,881.03 612.06,878.79 612.23,879.24 612.40,878.65 612.56,880.34 612.73,879.87 612.89,878.85 613.06,878.03 613.23,878.45 613.39,878.04 613.56,880.77 613.72,879.26 613.89,878.73 614.06,877.83 614.22,878.70 614.39,879.34 614.55,879.20 614.72,879.18 614.89,880.84 615.05,879.05 615.22,878.11 615.38,878.24 615.55,881.43 615.72,879.14 615.88,881.01 616.05,877.82 616.21,878.52 616.38,878.32 616.55,880.03 616.71,881.61 616.88,880.52 617.04,879.68 617.21,881.11 617.38,880.51 617.54,877.12 617.71,880.93 617.87,878.64 618.04,881.63 618.21,879.03 618.37,878.32 618.54,878.82 618.70,877.89 618.87,877.18 619.04,881.11 619.20,879.09 619.37,878.79 619.53,878.92 619.70,877.49 619.87,879.12 620.03,877.99 620.20,878.06 620.36,879.31 620.53,878.83 620.70,880.46 620.86,879.14 621.03,879.30 621.19,879.73 621.36,880.13 621.53,878.37 621.69,879.72 621.86,876.78 622.02,877.99 622.19,878.68 622.36,880.34 622.52,878.52 622.69,879.47 622.85,879.55 623.02,881.02 623.19,878.97 623.35,879.39 623.52,880.28 623.68,880.55 623.85,880.07 624.02,881.37 624.18,880.43 624.35,878.07 624.51,880.58 624.68,876.95 624.85,881.45 625.01,878.48 625.18,878.49 625.34,878.41 625.51,879.15 625.68,881.85 625.84,878.47 626.01,878.58 626.17,879.86 626.34,882.83 626.51,878.62 626.67,881.09 626.84,880.31 627.00,878.45 627.17,878.36 627.34,879.54 627.50,880.71 627.67,877.94 627.83,878.63 628.00,880.26 628.17,881.27 628.33,879.74 628.50,881.78 628.66,877.95 628.83,879.52 629.00,880.60 629.16,879.67 629.33,882.25 629.49,880.29 629.66,881.01 629.83,882.19 629.99,881.03 630.16,879.84 630.32,882.05 630.49,880.54 630.66,882.11 630.82,880.08 630.99,882.52 631.15,879.48 631.32,879.55 631.49,879.36 631.65,878.17 631.82,880.20 631.98,880.28 632.15,879.70 632.32,881.04 632.48,882.82 632.65,882.00 632.81,882.01 632.98,880.28 633.15,881.32 633.31,881.04 633.48,879.87 633.64,880.34 633.81,878.12 633.98,880.66 634.14,881.78 634.31,879.06 634.47,881.15 634.64,880.74 634.81,879.44 634.97,880.46 635.14,879.83 635.30,881.47 635.47,881.08 635.64,879.93 635.80,881.39 635.97,881.23 636.13,880.80 636.30,878.79" fill="none" stroke="#0000ff" stroke-width="0.85" stroke-linejoin="round"/>
<line x1="91.6" y1="526.4" x2="91.6" y2="923.15" stroke="#111" stroke-width="1.5"/>
<line x1="90.95" y1="922.5" x2="643" y2="922.5" stroke="#111" stroke-width="1.5"/>
<line x1="84" y1="922.4" x2="91.6" y2="922.4" stroke="#111" stroke-width="1.5"/>
<text transform="translate(30.75,927.6) scale(0.9700,1)" font-size="17.6">−2000</text>
<line x1="88" y1="900.4" x2="91.6" y2="900.4" stroke="#111" stroke-width="1.5"/>
<line x1="84" y1="878.4" x2="91.6" y2="878.4" stroke="#111" stroke-width="1.5"/>
<text transform="translate(69.17,883.6) scale(0.9700,1)" font-size="17.6">0</text>
<line x1="88" y1="856.4" x2="91.6" y2="856.4" stroke="#111" stroke-width="1.5"/>
<line x1="84" y1="834.4" x2="91.6" y2="834.4" stroke="#111" stroke-width="1.5"/>
<text transform="translate(40.74,839.6) scale(0.9700,1)" font-size="17.6">2000</text>
<line x1="88" y1="812.4" x2="91.6" y2="812.4" stroke="#111" stroke-width="1.5"/>
<line x1="84" y1="790.4" x2="91.6" y2="790.4" stroke="#111" stroke-width="1.5"/>
<text transform="translate(40.74,795.6) scale(0.9700,1)" font-size="17.6">4000</text>
<line x1="88" y1="768.4" x2="91.6" y2="768.4" stroke="#111" stroke-width="1.5"/>
<line x1="84" y1="746.4" x2="91.6" y2="746.4" stroke="#111" stroke-width="1.5"/>
<text transform="translate(40.74,751.6) scale(0.9700,1)" font-size="17.6">6000</text>
<line x1="88" y1="724.4" x2="91.6" y2="724.4" stroke="#111" stroke-width="1.5"/>
<line x1="84" y1="702.4" x2="91.6" y2="702.4" stroke="#111" stroke-width="1.5"/>
<text transform="translate(40.74,707.6) scale(0.9700,1)" font-size="17.6">8000</text>
<line x1="88" y1="680.4" x2="91.6" y2="680.4" stroke="#111" stroke-width="1.5"/>
<line x1="84" y1="658.4" x2="91.6" y2="658.4" stroke="#111" stroke-width="1.5"/>
<path d="M763,0 L583,0 L583,1147 Q518,1085 412,1023 Q307,961 223,930 L223,1104 Q374,1175 487,1276 Q600,1377 647,1472 L763,1472 Z" transform="translate(31.27,663.6) scale(0.00834,-0.00859)"/>
<text transform="translate(40.76,663.6) scale(0.9700,1)" font-size="17.6">0000</text>
<line x1="88" y1="636.4" x2="91.6" y2="636.4" stroke="#111" stroke-width="1.5"/>
<line x1="84" y1="614.4" x2="91.6" y2="614.4" stroke="#111" stroke-width="1.5"/>
<path d="M763,0 L583,0 L583,1147 Q518,1085 412,1023 Q307,961 223,930 L223,1104 Q374,1175 487,1276 Q600,1377 647,1472 L763,1472 Z" transform="translate(31.27,619.6) scale(0.00834,-0.00859)"/>
<text transform="translate(40.76,619.6) scale(0.9700,1)" font-size="17.6">2000</text>
<line x1="88" y1="592.4" x2="91.6" y2="592.4" stroke="#111" stroke-width="1.5"/>
<line x1="84" y1="570.4" x2="91.6" y2="570.4" stroke="#111" stroke-width="1.5"/>
<path d="M763,0 L583,0 L583,1147 Q518,1085 412,1023 Q307,961 223,930 L223,1104 Q374,1175 487,1276 Q600,1377 647,1472 L763,1472 Z" transform="translate(31.27,575.6) scale(0.00834,-0.00859)"/>
<text transform="translate(40.76,575.6) scale(0.9700,1)" font-size="17.6">4000</text>
<line x1="88" y1="548.4" x2="91.6" y2="548.4" stroke="#111" stroke-width="1.5"/>
<line x1="84" y1="526.4" x2="91.6" y2="526.4" stroke="#111" stroke-width="1.5"/>
<path d="M763,0 L583,0 L583,1147 Q518,1085 412,1023 Q307,961 223,930 L223,1104 Q374,1175 487,1276 Q600,1377 647,1472 L763,1472 Z" transform="translate(31.27,531.6) scale(0.00834,-0.00859)"/>
<text transform="translate(40.76,531.6) scale(0.9700,1)" font-size="17.6">6000</text>
<line x1="96.8" y1="922.5" x2="96.8" y2="926.1" stroke="#111" stroke-width="1.5"/>
<line x1="138.3" y1="922.5" x2="138.3" y2="929.5" stroke="#111" stroke-width="1.5"/>
<text transform="translate(128.87,947.8) scale(1.0000,1)" font-size="17">30</text>
<line x1="179.8" y1="922.5" x2="179.8" y2="926.1" stroke="#111" stroke-width="1.5"/>
<line x1="221.3" y1="922.5" x2="221.3" y2="929.5" stroke="#111" stroke-width="1.5"/>
<text transform="translate(211.99,947.8) scale(1.0000,1)" font-size="17">40</text>
<line x1="262.8" y1="922.5" x2="262.8" y2="926.1" stroke="#111" stroke-width="1.5"/>
<line x1="304.3" y1="922.5" x2="304.3" y2="929.5" stroke="#111" stroke-width="1.5"/>
<text transform="translate(294.84,947.8) scale(1.0000,1)" font-size="17">50</text>
<line x1="345.8" y1="922.5" x2="345.8" y2="926.1" stroke="#111" stroke-width="1.5"/>
<line x1="387.3" y1="922.5" x2="387.3" y2="929.5" stroke="#111" stroke-width="1.5"/>
<text transform="translate(377.76,947.8) scale(1.0000,1)" font-size="17">60</text>
<line x1="428.8" y1="922.5" x2="428.8" y2="926.1" stroke="#111" stroke-width="1.5"/>
<line x1="470.3" y1="922.5" x2="470.3" y2="929.5" stroke="#111" stroke-width="1.5"/>
<text transform="translate(460.74,947.8) scale(1.0000,1)" font-size="17">70</text>
<line x1="511.8" y1="922.5" x2="511.8" y2="926.1" stroke="#111" stroke-width="1.5"/>
<line x1="553.3" y1="922.5" x2="553.3" y2="929.5" stroke="#111" stroke-width="1.5"/>
<text transform="translate(543.82,947.8) scale(1.0000,1)" font-size="17">80</text>
<line x1="594.8" y1="922.5" x2="594.8" y2="926.1" stroke="#111" stroke-width="1.5"/>
<line x1="636.3" y1="922.5" x2="636.3" y2="929.5" stroke="#111" stroke-width="1.5"/>
<text transform="translate(626.78,947.8) scale(1.0000,1)" font-size="17">90</text>
<rect x="226" y="5.2" width="20.3" height="11.6" fill="#000"/>
<text transform="translate(249.45,17.7) scale(1.0664,1)" font-size="20.29">(200)</text>
<rect x="458.8" y="47.7" width="178.1" height="27.6" fill="#fff"/>
<line x1="458.8" y1="47.7" x2="636.9" y2="47.7" stroke="#b4b4b4" stroke-width="1.3"/>
<line x1="636.9" y1="47" x2="636.9" y2="76" stroke="#707070" stroke-width="1.5"/>
<line x1="458" y1="75.3" x2="637.6" y2="75.3" stroke="#505050" stroke-width="1.5"/>
<line x1="458.9" y1="47" x2="458.9" y2="76" stroke="#4a4a4a" stroke-width="1.7"/>
<line x1="461.3" y1="62.45" x2="509.8" y2="62.45" stroke="#f29a9a" stroke-width="1.2"/>
<text transform="translate(517.15,68) scale(1.0810,1)" font-size="20.28">AlCrFeNiCu</text>
<polygon points="470.1,113.5 479,127.7 461.3,127.7" fill="#000"/>
<line x1="480" y1="121.8" x2="486.2" y2="121.8" stroke="#000" stroke-width="1.6"/>
<text transform="translate(492.68,127.7) scale(1.1190,1)" font-size="19.71">BCC</text>
<rect x="561.6" y="115.9" width="21.3" height="11.2" fill="#000"/>
<line x1="585" y1="122.5" x2="590.7" y2="122.5" stroke="#000" stroke-width="1.6"/>
<text transform="translate(597.56,127.7) scale(1.0969,1)" font-size="20.29">FCC</text>
<rect x="197.5" y="267.9" width="21.4" height="11.8" fill="#000"/>
<text transform="translate(223.4,279.7) scale(1.0806,1)" font-size="20.71">(</text>
<path d="M763,0 L583,0 L583,1147 Q518,1085 412,1023 Q307,961 223,930 L223,1104 Q374,1175 487,1276 Q600,1377 647,1472 L763,1472 Z" transform="translate(230.85,279.7) scale(0.01093,-0.01011)"/>
<path d="M763,0 L583,0 L583,1147 Q518,1085 412,1023 Q307,961 223,930 L223,1104 Q374,1175 487,1276 Q600,1377 647,1472 L763,1472 Z" transform="translate(243.3,279.7) scale(0.01093,-0.01011)"/>
<path d="M763,0 L583,0 L583,1147 Q518,1085 412,1023 Q307,961 223,930 L223,1104 Q374,1175 487,1276 Q600,1377 647,1472 L763,1472 Z" transform="translate(255.75,279.7) scale(0.01093,-0.01011)"/>
<text transform="translate(268.2,279.7) scale(1.0806,1)" font-size="20.71">)</text>
<rect x="303.5" y="321.9" width="20.5" height="11.8" fill="#000"/>
<text transform="translate(326.62,334.3) scale(1.1226,1)" font-size="19.71">(200)</text>
<polygon points="417.9,320.5 426,333.7 409.6,333.7" fill="#000"/>
<text transform="translate(429.89,334.3) scale(1.1479,1)" font-size="19.71">(200)</text>
<rect x="506.6" y="323.8" width="21.3" height="12.1" fill="#000"/>
<text transform="translate(529.91,335.9) scale(1.1378,1)" font-size="19.57">(220)</text>
<polygon points="596.8,299.9 605.3,313 588.9,313" fill="#000"/>
<text transform="translate(608.51,313.4) scale(1.0955,1)" font-size="20.29">(2</text>
<path d="M763,0 L583,0 L583,1147 Q518,1085 412,1023 Q307,961 223,930 L223,1104 Q374,1175 487,1276 Q600,1377 647,1472 L763,1472 Z" transform="translate(628.27,313.4) scale(0.01085,-0.00991)"/>
<path d="M763,0 L583,0 L583,1147 Q518,1085 412,1023 Q307,961 223,930 L223,1104 Q374,1175 487,1276 Q600,1377 647,1472 L763,1472 Z" transform="translate(640.63,313.4) scale(0.01085,-0.00991)"/>
<text transform="translate(652.99,313.4) scale(1.0955,1)" font-size="20.29">)</text>
<text transform="translate(363.08,467.6) scale(1.1004,1)" font-size="20.43">2θ (°)</text>
<polygon points="212.5,545.2 220.8,558.6 203.9,558.6" fill="#000"/>
<text transform="translate(229.94,558.4) scale(1.0014,1)" font-size="25">(</text>
<path d="M763,0 L583,0 L583,1147 Q518,1085 412,1023 Q307,961 223,930 L223,1104 Q374,1175 487,1276 Q600,1377 647,1472 L763,1472 Z" transform="translate(238.27,558.4) scale(0.01222,-0.01221)"/>
<path d="M763,0 L583,0 L583,1147 Q518,1085 412,1023 Q307,961 223,930 L223,1104 Q374,1175 487,1276 Q600,1377 647,1472 L763,1472 Z" transform="translate(252.19,558.4) scale(0.01222,-0.01221)"/>
<text transform="translate(266.12,558.4) scale(1.0014,1)" font-size="25">0)</text>
<rect x="508.8" y="541.25" width="169.9" height="28.05" fill="#fff" stroke="#5a5a5a" stroke-width="1.3"/>
<line x1="511.7" y1="555.5" x2="558.4" y2="555.5" stroke="#8c8cf2" stroke-width="1.2"/>
<text transform="translate(564.95,561.9) scale(1.0542,1)" font-size="19.72">AlCrFeNiCo</text>
<polygon points="522.6,586.1 530.7,599.2 513.9,599.2" fill="#000"/>
<line x1="532.4" y1="594.6" x2="538.2" y2="594.6" stroke="#000" stroke-width="1.6"/>
<text transform="translate(544.54,599.2) scale(1.1419,1)" font-size="19.71">BCC</text>
<circle cx="509.2" cy="597.2" r="0.75" fill="#8a7450"/>
<polygon points="412.9,802.2 420.8,815.8 404.6,815.8" fill="#000"/>
<text transform="translate(428.26,818.7) scale(1.0356,1)" font-size="20.71">(200)</text>
<polygon points="544.7,773.2 552.6,786.7 536.3,786.7" fill="#000"/>
<text transform="translate(558.68,786.3) scale(1.0251,1)" font-size="20.57">(2</text>
<path d="M763,0 L583,0 L583,1147 Q518,1085 412,1023 Q307,961 223,930 L223,1104 Q374,1175 487,1276 Q600,1377 647,1472 L763,1472 Z" transform="translate(577.43,786.3) scale(0.01030,-0.01004)"/>
<path d="M763,0 L583,0 L583,1147 Q518,1085 412,1023 Q307,961 223,930 L223,1104 Q374,1175 487,1276 Q600,1377 647,1472 L763,1472 Z" transform="translate(589.16,786.3) scale(0.01030,-0.01004)"/>
<text transform="translate(600.89,786.3) scale(1.0251,1)" font-size="20.57">)</text>
<text transform="translate(340.02,983.3) scale(1.0439,1)" font-size="20.71">2θ (°)</text>
<text transform="translate(19.9,266.43) rotate(-90) scale(0.8854,1)" font-size="23.62">Intensity (au)</text>
<text transform="translate(23.6,777.92) rotate(-90) scale(0.9361,1)" font-size="22.17">Intensity (au)</text>
<text x="138.18" y="24.4" font-size="25" style="font-family:'Liberation Serif',serif;font-weight:bold">(</text>
<text x="146.95" y="24.4" font-size="24" style="font-family:'Liberation Serif',serif;font-weight:bold;stroke:#000;stroke-width:0.5px">a</text>
<text x="159.83" y="28.7" font-size="16.2" style="font-family:'Liberation Serif',serif;font-weight:bold;stroke:#000;stroke-width:0.3px">1</text>
<text x="168.85" y="24.4" font-size="25" style="font-family:'Liberation Serif',serif;font-weight:bold">)</text>
<text x="135.78" y="558.4" font-size="25" style="font-family:'Liberation Serif',serif;font-weight:bold">(</text>
<text x="145.19" y="558.4" font-size="23" style="font-family:'Liberation Serif',serif;font-weight:bold;stroke:#000;stroke-width:0.5px">a</text>
<text x="157.57" y="562.4" font-size="15.7" style="font-family:'Liberation Serif',serif;font-weight:bold;stroke:#000;stroke-width:0.3px">2</text>
<text x="166.95" y="558.4" font-size="25" style="font-family:'Liberation Serif',serif;font-weight:bold">)</text>
</svg></body></html>
